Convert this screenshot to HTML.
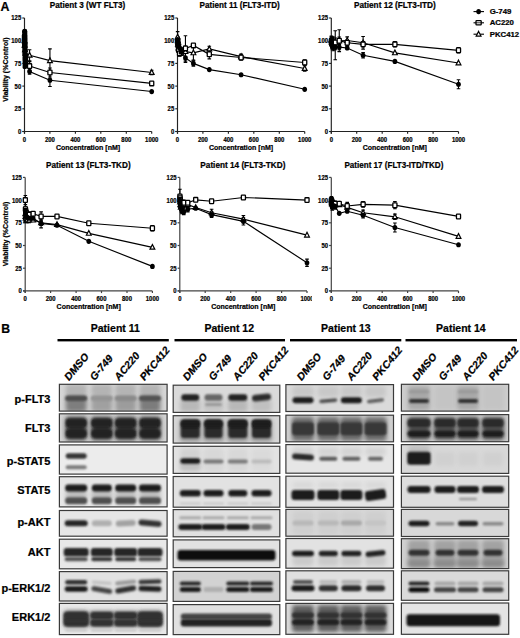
<!DOCTYPE html>
<html><head><meta charset="utf-8"><style>
html,body{margin:0;padding:0;background:#fff;}
svg{display:block;}
</style></head><body>
<svg width="520" height="638" viewBox="0 0 520 638">
<rect width="520" height="638" fill="#fff"/>
<text x="87.5" y="8.1" font-family="Liberation Sans, sans-serif" font-weight="bold" stroke="#000" stroke-width="0.22" font-size="8.6" text-anchor="middle" textLength="75.6" lengthAdjust="spacingAndGlyphs">Patient 3 (WT FLT3)</text>
<path d="M24.5 18.0 V133.7 M22.3 131.5 H151.7" stroke="#222" stroke-width="1.15" fill="none"/>
<path d="M22.3 131.5 H24.5" stroke="#222" stroke-width="1.15"/>
<text x="21.2" y="133.9" font-family="Liberation Sans, sans-serif" font-weight="bold" stroke="#000" stroke-width="0.22" font-size="6.8" text-anchor="end" textLength="3.3" lengthAdjust="spacingAndGlyphs">0</text>
<path d="M22.3 108.8 H24.5" stroke="#222" stroke-width="1.15"/>
<text x="21.2" y="111.2" font-family="Liberation Sans, sans-serif" font-weight="bold" stroke="#000" stroke-width="0.22" font-size="6.8" text-anchor="end" textLength="6.6" lengthAdjust="spacingAndGlyphs">25</text>
<path d="M22.3 86.1 H24.5" stroke="#222" stroke-width="1.15"/>
<text x="21.2" y="88.5" font-family="Liberation Sans, sans-serif" font-weight="bold" stroke="#000" stroke-width="0.22" font-size="6.8" text-anchor="end" textLength="6.6" lengthAdjust="spacingAndGlyphs">50</text>
<path d="M22.3 63.4 H24.5" stroke="#222" stroke-width="1.15"/>
<text x="21.2" y="65.8" font-family="Liberation Sans, sans-serif" font-weight="bold" stroke="#000" stroke-width="0.22" font-size="6.8" text-anchor="end" textLength="6.6" lengthAdjust="spacingAndGlyphs">75</text>
<path d="M22.3 40.7 H24.5" stroke="#222" stroke-width="1.15"/>
<text x="21.2" y="43.2" font-family="Liberation Sans, sans-serif" font-weight="bold" stroke="#000" stroke-width="0.22" font-size="6.8" text-anchor="end" textLength="9.9" lengthAdjust="spacingAndGlyphs">100</text>
<path d="M22.3 18.0 H24.5" stroke="#222" stroke-width="1.15"/>
<text x="21.2" y="20.4" font-family="Liberation Sans, sans-serif" font-weight="bold" stroke="#000" stroke-width="0.22" font-size="6.8" text-anchor="end" textLength="9.9" lengthAdjust="spacingAndGlyphs">125</text>
<path d="M24.5 131.5 V133.7" stroke="#222" stroke-width="1.15"/>
<text x="24.5" y="141.7" font-family="Liberation Sans, sans-serif" font-weight="bold" stroke="#000" stroke-width="0.22" font-size="6.8" text-anchor="middle" textLength="3.3" lengthAdjust="spacingAndGlyphs">0</text>
<path d="M49.9 131.5 V133.7" stroke="#222" stroke-width="1.15"/>
<text x="49.9" y="141.7" font-family="Liberation Sans, sans-serif" font-weight="bold" stroke="#000" stroke-width="0.22" font-size="6.8" text-anchor="middle" textLength="9.9" lengthAdjust="spacingAndGlyphs">200</text>
<path d="M75.4 131.5 V133.7" stroke="#222" stroke-width="1.15"/>
<text x="75.4" y="141.7" font-family="Liberation Sans, sans-serif" font-weight="bold" stroke="#000" stroke-width="0.22" font-size="6.8" text-anchor="middle" textLength="9.9" lengthAdjust="spacingAndGlyphs">400</text>
<path d="M100.8 131.5 V133.7" stroke="#222" stroke-width="1.15"/>
<text x="100.8" y="141.7" font-family="Liberation Sans, sans-serif" font-weight="bold" stroke="#000" stroke-width="0.22" font-size="6.8" text-anchor="middle" textLength="9.9" lengthAdjust="spacingAndGlyphs">600</text>
<path d="M126.3 131.5 V133.7" stroke="#222" stroke-width="1.15"/>
<text x="126.3" y="141.7" font-family="Liberation Sans, sans-serif" font-weight="bold" stroke="#000" stroke-width="0.22" font-size="6.8" text-anchor="middle" textLength="9.9" lengthAdjust="spacingAndGlyphs">800</text>
<path d="M151.7 131.5 V133.7" stroke="#222" stroke-width="1.15"/>
<text x="151.7" y="141.7" font-family="Liberation Sans, sans-serif" font-weight="bold" stroke="#000" stroke-width="0.22" font-size="6.8" text-anchor="middle" textLength="13.2" lengthAdjust="spacingAndGlyphs">1000</text>
<text x="88.0" y="149.7" font-family="Liberation Sans, sans-serif" font-weight="bold" stroke="#000" stroke-width="0.22" font-size="7" text-anchor="middle">Concentration [nM]</text>
<text transform="translate(8.2,69.6) rotate(-90)" font-family="Liberation Sans, sans-serif" font-weight="bold" stroke="#000" stroke-width="0.22" font-size="7" text-anchor="middle">Viability (%Control)</text>
<path d="M24.50 40.70 L24.63 45.24 L25.01 49.78 L25.52 53.41 L29.59 55.23 L49.94 60.68 L151.70 72.48" stroke="#000" stroke-width="1.15" fill="none"/>
<path d="M24.50 37.98 V43.42 M22.70 37.98 H26.30 M22.70 43.42 H26.30" stroke="#000" stroke-width="1.1" fill="none"/>
<path d="M24.63 42.52 V47.96 M22.83 42.52 H26.43 M22.83 47.96 H26.43" stroke="#000" stroke-width="1.1" fill="none"/>
<path d="M25.01 46.15 V53.41 M23.21 46.15 H26.81 M23.21 53.41 H26.81" stroke="#000" stroke-width="1.1" fill="none"/>
<path d="M25.52 49.78 V57.04 M23.72 49.78 H27.32 M23.72 57.04 H27.32" stroke="#000" stroke-width="1.1" fill="none"/>
<path d="M29.59 49.78 V60.68 M27.79 49.78 H31.39 M27.79 60.68 H31.39" stroke="#000" stroke-width="1.1" fill="none"/>
<path d="M49.94 48.87 V72.48 M48.14 48.87 H51.74 M48.14 72.48 H51.74" stroke="#000" stroke-width="1.1" fill="none"/>
<path d="M151.70 70.21 V74.75 M149.90 70.21 H153.50 M149.90 74.75 H153.50" stroke="#000" stroke-width="1.1" fill="none"/>
<path d="M24.50 37.07 L24.56 40.70 L24.75 45.24 L25.52 58.86 L29.59 66.12 L49.94 72.48 L151.70 83.38" stroke="#000" stroke-width="1.15" fill="none"/>
<path d="M24.50 34.34 V39.79 M22.70 34.34 H26.30 M22.70 39.79 H26.30" stroke="#000" stroke-width="1.1" fill="none"/>
<path d="M24.56 37.98 V43.42 M22.76 37.98 H26.36 M22.76 43.42 H26.36" stroke="#000" stroke-width="1.1" fill="none"/>
<path d="M24.75 42.52 V47.96 M22.95 42.52 H26.55 M22.95 47.96 H26.55" stroke="#000" stroke-width="1.1" fill="none"/>
<path d="M25.52 55.23 V62.49 M23.72 55.23 H27.32 M23.72 62.49 H27.32" stroke="#000" stroke-width="1.1" fill="none"/>
<path d="M29.59 61.58 V70.66 M27.79 61.58 H31.39 M27.79 70.66 H31.39" stroke="#000" stroke-width="1.1" fill="none"/>
<path d="M49.94 67.94 V77.02 M48.14 67.94 H51.74 M48.14 77.02 H51.74" stroke="#000" stroke-width="1.1" fill="none"/>
<path d="M24.50 31.62 L24.54 35.25 L24.63 38.88 L24.88 43.42 L25.26 49.78 L25.52 55.23 L29.59 71.57 L49.94 80.20 L151.70 91.55" stroke="#000" stroke-width="1.15" fill="none"/>
<path d="M24.54 32.53 V37.98 M22.74 32.53 H26.34 M22.74 37.98 H26.34" stroke="#000" stroke-width="1.1" fill="none"/>
<path d="M24.63 36.16 V41.61 M22.83 36.16 H26.43 M22.83 41.61 H26.43" stroke="#000" stroke-width="1.1" fill="none"/>
<path d="M24.88 39.79 V47.06 M23.08 39.79 H26.68 M23.08 47.06 H26.68" stroke="#000" stroke-width="1.1" fill="none"/>
<path d="M25.26 46.15 V53.41 M23.46 46.15 H27.06 M23.46 53.41 H27.06" stroke="#000" stroke-width="1.1" fill="none"/>
<path d="M25.52 50.69 V59.77 M23.72 50.69 H27.32 M23.72 59.77 H27.32" stroke="#000" stroke-width="1.1" fill="none"/>
<path d="M29.59 68.85 V74.30 M27.79 68.85 H31.39 M27.79 74.30 H31.39" stroke="#000" stroke-width="1.1" fill="none"/>
<path d="M49.94 73.84 V86.55 M48.14 73.84 H51.74 M48.14 86.55 H51.74" stroke="#000" stroke-width="1.1" fill="none"/>
<path d="M24.50 37.90 L26.90 42.60 L22.10 42.60 Z" fill="#fff" stroke="#000" stroke-width="1.2"/>
<path d="M24.63 42.44 L27.03 47.14 L22.23 47.14 Z" fill="#fff" stroke="#000" stroke-width="1.2"/>
<path d="M25.01 46.98 L27.41 51.68 L22.61 51.68 Z" fill="#fff" stroke="#000" stroke-width="1.2"/>
<path d="M25.52 50.61 L27.92 55.31 L23.12 55.31 Z" fill="#fff" stroke="#000" stroke-width="1.2"/>
<path d="M29.59 52.43 L31.99 57.13 L27.19 57.13 Z" fill="#fff" stroke="#000" stroke-width="1.2"/>
<path d="M49.94 57.88 L52.34 62.58 L47.54 62.58 Z" fill="#fff" stroke="#000" stroke-width="1.2"/>
<path d="M151.70 69.68 L154.10 74.38 L149.30 74.38 Z" fill="#fff" stroke="#000" stroke-width="1.2"/>
<rect x="22.45" y="34.72" width="4.1" height="4.7" rx="0.6" fill="#fff" stroke="#000" stroke-width="1.3"/>
<rect x="22.51" y="38.35" width="4.1" height="4.7" rx="0.6" fill="#fff" stroke="#000" stroke-width="1.3"/>
<rect x="22.70" y="42.89" width="4.1" height="4.7" rx="0.6" fill="#fff" stroke="#000" stroke-width="1.3"/>
<rect x="23.47" y="56.51" width="4.1" height="4.7" rx="0.6" fill="#fff" stroke="#000" stroke-width="1.3"/>
<rect x="27.54" y="63.77" width="4.1" height="4.7" rx="0.6" fill="#fff" stroke="#000" stroke-width="1.3"/>
<rect x="47.89" y="70.13" width="4.1" height="4.7" rx="0.6" fill="#fff" stroke="#000" stroke-width="1.3"/>
<rect x="149.65" y="81.03" width="4.1" height="4.7" rx="0.6" fill="#fff" stroke="#000" stroke-width="1.3"/>
<ellipse cx="24.50" cy="31.62" rx="2.35" ry="2.6" fill="#000"/>
<ellipse cx="24.54" cy="35.25" rx="2.35" ry="2.6" fill="#000"/>
<ellipse cx="24.63" cy="38.88" rx="2.35" ry="2.6" fill="#000"/>
<ellipse cx="24.88" cy="43.42" rx="2.35" ry="2.6" fill="#000"/>
<ellipse cx="25.26" cy="49.78" rx="2.35" ry="2.6" fill="#000"/>
<ellipse cx="25.52" cy="55.23" rx="2.35" ry="2.6" fill="#000"/>
<ellipse cx="29.59" cy="71.57" rx="2.35" ry="2.6" fill="#000"/>
<ellipse cx="49.94" cy="80.20" rx="2.35" ry="2.6" fill="#000"/>
<ellipse cx="151.70" cy="91.55" rx="2.35" ry="2.6" fill="#000"/>
<rect x="22.3" y="28.8" width="5.0" height="28" rx="2.4" fill="#000"/>
<rect x="22.6" y="55" width="4.4" height="14" rx="1.5" fill="#000"/>
<text x="239.7" y="8.1" font-family="Liberation Sans, sans-serif" font-weight="bold" stroke="#000" stroke-width="0.22" font-size="8.6" text-anchor="middle" textLength="80.3" lengthAdjust="spacingAndGlyphs">Patient 11 (FLT3-ITD)</text>
<path d="M177.5 18.0 V133.7 M175.3 131.5 H304.7" stroke="#222" stroke-width="1.15" fill="none"/>
<path d="M175.3 131.5 H177.5" stroke="#222" stroke-width="1.15"/>
<text x="174.2" y="133.9" font-family="Liberation Sans, sans-serif" font-weight="bold" stroke="#000" stroke-width="0.22" font-size="6.8" text-anchor="end" textLength="3.3" lengthAdjust="spacingAndGlyphs">0</text>
<path d="M175.3 108.8 H177.5" stroke="#222" stroke-width="1.15"/>
<text x="174.2" y="111.2" font-family="Liberation Sans, sans-serif" font-weight="bold" stroke="#000" stroke-width="0.22" font-size="6.8" text-anchor="end" textLength="6.6" lengthAdjust="spacingAndGlyphs">25</text>
<path d="M175.3 86.1 H177.5" stroke="#222" stroke-width="1.15"/>
<text x="174.2" y="88.5" font-family="Liberation Sans, sans-serif" font-weight="bold" stroke="#000" stroke-width="0.22" font-size="6.8" text-anchor="end" textLength="6.6" lengthAdjust="spacingAndGlyphs">50</text>
<path d="M175.3 63.4 H177.5" stroke="#222" stroke-width="1.15"/>
<text x="174.2" y="65.8" font-family="Liberation Sans, sans-serif" font-weight="bold" stroke="#000" stroke-width="0.22" font-size="6.8" text-anchor="end" textLength="6.6" lengthAdjust="spacingAndGlyphs">75</text>
<path d="M175.3 40.7 H177.5" stroke="#222" stroke-width="1.15"/>
<text x="174.2" y="43.2" font-family="Liberation Sans, sans-serif" font-weight="bold" stroke="#000" stroke-width="0.22" font-size="6.8" text-anchor="end" textLength="9.9" lengthAdjust="spacingAndGlyphs">100</text>
<path d="M175.3 18.0 H177.5" stroke="#222" stroke-width="1.15"/>
<text x="174.2" y="20.4" font-family="Liberation Sans, sans-serif" font-weight="bold" stroke="#000" stroke-width="0.22" font-size="6.8" text-anchor="end" textLength="9.9" lengthAdjust="spacingAndGlyphs">125</text>
<path d="M177.5 131.5 V133.7" stroke="#222" stroke-width="1.15"/>
<text x="177.5" y="141.7" font-family="Liberation Sans, sans-serif" font-weight="bold" stroke="#000" stroke-width="0.22" font-size="6.8" text-anchor="middle" textLength="3.3" lengthAdjust="spacingAndGlyphs">0</text>
<path d="M202.9 131.5 V133.7" stroke="#222" stroke-width="1.15"/>
<text x="202.9" y="141.7" font-family="Liberation Sans, sans-serif" font-weight="bold" stroke="#000" stroke-width="0.22" font-size="6.8" text-anchor="middle" textLength="9.9" lengthAdjust="spacingAndGlyphs">200</text>
<path d="M228.4 131.5 V133.7" stroke="#222" stroke-width="1.15"/>
<text x="228.4" y="141.7" font-family="Liberation Sans, sans-serif" font-weight="bold" stroke="#000" stroke-width="0.22" font-size="6.8" text-anchor="middle" textLength="9.9" lengthAdjust="spacingAndGlyphs">400</text>
<path d="M253.8 131.5 V133.7" stroke="#222" stroke-width="1.15"/>
<text x="253.8" y="141.7" font-family="Liberation Sans, sans-serif" font-weight="bold" stroke="#000" stroke-width="0.22" font-size="6.8" text-anchor="middle" textLength="9.9" lengthAdjust="spacingAndGlyphs">600</text>
<path d="M279.3 131.5 V133.7" stroke="#222" stroke-width="1.15"/>
<text x="279.3" y="141.7" font-family="Liberation Sans, sans-serif" font-weight="bold" stroke="#000" stroke-width="0.22" font-size="6.8" text-anchor="middle" textLength="9.9" lengthAdjust="spacingAndGlyphs">800</text>
<path d="M304.7 131.5 V133.7" stroke="#222" stroke-width="1.15"/>
<text x="304.7" y="141.7" font-family="Liberation Sans, sans-serif" font-weight="bold" stroke="#000" stroke-width="0.22" font-size="6.8" text-anchor="middle" textLength="13.2" lengthAdjust="spacingAndGlyphs">1000</text>
<text x="241.0" y="149.7" font-family="Liberation Sans, sans-serif" font-weight="bold" stroke="#000" stroke-width="0.22" font-size="7" text-anchor="middle">Concentration [nM]</text>
<path d="M177.63 37.07 L177.75 40.70 L178.01 44.33 L178.52 47.96 L179.54 49.78 L181.44 51.60 L185.45 51.60 L193.40 52.87 L209.30 48.96 L241.10 56.68 L304.70 68.48" stroke="#000" stroke-width="1.15" fill="none"/>
<path d="M177.63 31.62 V42.52 M175.83 31.62 H179.43 M175.83 42.52 H179.43" stroke="#000" stroke-width="1.1" fill="none"/>
<path d="M177.75 37.07 V44.33 M175.95 37.07 H179.55 M175.95 44.33 H179.55" stroke="#000" stroke-width="1.1" fill="none"/>
<path d="M178.01 40.70 V47.96 M176.21 40.70 H179.81 M176.21 47.96 H179.81" stroke="#000" stroke-width="1.1" fill="none"/>
<path d="M178.52 44.33 V51.60 M176.72 44.33 H180.32 M176.72 51.60 H180.32" stroke="#000" stroke-width="1.1" fill="none"/>
<path d="M179.54 46.15 V53.41 M177.74 46.15 H181.34 M177.74 53.41 H181.34" stroke="#000" stroke-width="1.1" fill="none"/>
<path d="M181.44 47.96 V55.23 M179.64 47.96 H183.24 M179.64 55.23 H183.24" stroke="#000" stroke-width="1.1" fill="none"/>
<path d="M185.45 46.15 V57.04 M183.65 46.15 H187.25 M183.65 57.04 H187.25" stroke="#000" stroke-width="1.1" fill="none"/>
<path d="M193.40 45.60 V60.13 M191.60 45.60 H195.20 M191.60 60.13 H195.20" stroke="#000" stroke-width="1.1" fill="none"/>
<path d="M209.30 46.24 V51.69 M207.50 46.24 H211.10 M207.50 51.69 H211.10" stroke="#000" stroke-width="1.1" fill="none"/>
<path d="M241.10 53.96 V59.40 M239.30 53.96 H242.90 M239.30 59.40 H242.90" stroke="#000" stroke-width="1.1" fill="none"/>
<path d="M304.70 65.76 V71.21 M302.90 65.76 H306.50 M302.90 71.21 H306.50" stroke="#000" stroke-width="1.1" fill="none"/>
<path d="M177.63 40.70 L177.75 42.52 L178.01 45.24 L178.52 49.78 L179.54 53.41 L181.44 51.60 L185.45 48.42 L193.40 45.42 L209.30 54.32 L241.10 57.50 L304.70 62.49" stroke="#000" stroke-width="1.15" fill="none"/>
<path d="M177.63 37.98 V43.42 M175.83 37.98 H179.43 M175.83 43.42 H179.43" stroke="#000" stroke-width="1.1" fill="none"/>
<path d="M177.75 39.79 V45.24 M175.95 39.79 H179.55 M175.95 45.24 H179.55" stroke="#000" stroke-width="1.1" fill="none"/>
<path d="M178.01 42.52 V47.96 M176.21 42.52 H179.81 M176.21 47.96 H179.81" stroke="#000" stroke-width="1.1" fill="none"/>
<path d="M178.52 47.06 V52.50 M176.72 47.06 H180.32 M176.72 52.50 H180.32" stroke="#000" stroke-width="1.1" fill="none"/>
<path d="M179.54 50.69 V56.14 M177.74 50.69 H181.34 M177.74 56.14 H181.34" stroke="#000" stroke-width="1.1" fill="none"/>
<path d="M181.44 47.96 V55.23 M179.64 47.96 H183.24 M179.64 55.23 H183.24" stroke="#000" stroke-width="1.1" fill="none"/>
<path d="M185.45 35.71 V61.13 M183.65 35.71 H187.25 M183.65 61.13 H187.25" stroke="#000" stroke-width="1.1" fill="none"/>
<path d="M209.30 49.78 V58.86 M207.50 49.78 H211.10 M207.50 58.86 H211.10" stroke="#000" stroke-width="1.1" fill="none"/>
<path d="M241.10 54.77 V60.22 M239.30 54.77 H242.90 M239.30 60.22 H242.90" stroke="#000" stroke-width="1.1" fill="none"/>
<path d="M304.70 59.77 V65.22 M302.90 59.77 H306.50 M302.90 65.22 H306.50" stroke="#000" stroke-width="1.1" fill="none"/>
<path d="M177.63 39.79 L177.75 41.61 L178.01 44.33 L178.52 46.15 L179.54 47.96 L181.44 51.60 L185.45 57.95 L193.40 63.40 L209.30 69.57 L241.10 74.75 L304.70 89.28" stroke="#000" stroke-width="1.15" fill="none"/>
<path d="M177.63 37.07 V42.52 M175.83 37.07 H179.43 M175.83 42.52 H179.43" stroke="#000" stroke-width="1.1" fill="none"/>
<path d="M177.75 38.88 V44.33 M175.95 38.88 H179.55 M175.95 44.33 H179.55" stroke="#000" stroke-width="1.1" fill="none"/>
<path d="M178.01 40.70 V47.96 M176.21 40.70 H179.81 M176.21 47.96 H179.81" stroke="#000" stroke-width="1.1" fill="none"/>
<path d="M178.52 42.52 V49.78 M176.72 42.52 H180.32 M176.72 49.78 H180.32" stroke="#000" stroke-width="1.1" fill="none"/>
<path d="M179.54 44.33 V51.60 M177.74 44.33 H181.34 M177.74 51.60 H181.34" stroke="#000" stroke-width="1.1" fill="none"/>
<path d="M181.44 47.96 V55.23 M179.64 47.96 H183.24 M179.64 55.23 H183.24" stroke="#000" stroke-width="1.1" fill="none"/>
<path d="M185.45 53.41 V62.49 M183.65 53.41 H187.25 M183.65 62.49 H187.25" stroke="#000" stroke-width="1.1" fill="none"/>
<path d="M193.40 60.68 V66.12 M191.60 60.68 H195.20 M191.60 66.12 H195.20" stroke="#000" stroke-width="1.1" fill="none"/>
<path d="M177.63 34.27 L180.03 38.97 L175.23 38.97 Z" fill="#fff" stroke="#000" stroke-width="1.2"/>
<path d="M177.75 37.90 L180.15 42.60 L175.35 42.60 Z" fill="#fff" stroke="#000" stroke-width="1.2"/>
<path d="M178.01 41.53 L180.41 46.23 L175.61 46.23 Z" fill="#fff" stroke="#000" stroke-width="1.2"/>
<path d="M178.52 45.16 L180.92 49.86 L176.12 49.86 Z" fill="#fff" stroke="#000" stroke-width="1.2"/>
<path d="M179.54 46.98 L181.94 51.68 L177.14 51.68 Z" fill="#fff" stroke="#000" stroke-width="1.2"/>
<path d="M181.44 48.80 L183.84 53.50 L179.04 53.50 Z" fill="#fff" stroke="#000" stroke-width="1.2"/>
<path d="M185.45 48.80 L187.85 53.50 L183.05 53.50 Z" fill="#fff" stroke="#000" stroke-width="1.2"/>
<path d="M193.40 50.07 L195.80 54.77 L191.00 54.77 Z" fill="#fff" stroke="#000" stroke-width="1.2"/>
<path d="M209.30 46.16 L211.70 50.86 L206.90 50.86 Z" fill="#fff" stroke="#000" stroke-width="1.2"/>
<path d="M241.10 53.88 L243.50 58.58 L238.70 58.58 Z" fill="#fff" stroke="#000" stroke-width="1.2"/>
<path d="M304.70 65.68 L307.10 70.38 L302.30 70.38 Z" fill="#fff" stroke="#000" stroke-width="1.2"/>
<rect x="175.58" y="38.35" width="4.1" height="4.7" rx="0.6" fill="#fff" stroke="#000" stroke-width="1.3"/>
<rect x="175.70" y="40.17" width="4.1" height="4.7" rx="0.6" fill="#fff" stroke="#000" stroke-width="1.3"/>
<rect x="175.96" y="42.89" width="4.1" height="4.7" rx="0.6" fill="#fff" stroke="#000" stroke-width="1.3"/>
<rect x="176.47" y="47.43" width="4.1" height="4.7" rx="0.6" fill="#fff" stroke="#000" stroke-width="1.3"/>
<rect x="177.49" y="51.06" width="4.1" height="4.7" rx="0.6" fill="#fff" stroke="#000" stroke-width="1.3"/>
<rect x="179.39" y="49.25" width="4.1" height="4.7" rx="0.6" fill="#fff" stroke="#000" stroke-width="1.3"/>
<rect x="183.40" y="46.07" width="4.1" height="4.7" rx="0.6" fill="#fff" stroke="#000" stroke-width="1.3"/>
<rect x="191.35" y="43.07" width="4.1" height="4.7" rx="0.6" fill="#fff" stroke="#000" stroke-width="1.3"/>
<rect x="207.25" y="51.97" width="4.1" height="4.7" rx="0.6" fill="#fff" stroke="#000" stroke-width="1.3"/>
<rect x="239.05" y="55.15" width="4.1" height="4.7" rx="0.6" fill="#fff" stroke="#000" stroke-width="1.3"/>
<rect x="302.65" y="60.14" width="4.1" height="4.7" rx="0.6" fill="#fff" stroke="#000" stroke-width="1.3"/>
<ellipse cx="177.63" cy="39.79" rx="2.35" ry="2.6" fill="#000"/>
<ellipse cx="177.75" cy="41.61" rx="2.35" ry="2.6" fill="#000"/>
<ellipse cx="178.01" cy="44.33" rx="2.35" ry="2.6" fill="#000"/>
<ellipse cx="178.52" cy="46.15" rx="2.35" ry="2.6" fill="#000"/>
<ellipse cx="179.54" cy="47.96" rx="2.35" ry="2.6" fill="#000"/>
<ellipse cx="181.44" cy="51.60" rx="2.35" ry="2.6" fill="#000"/>
<ellipse cx="185.45" cy="57.95" rx="2.35" ry="2.6" fill="#000"/>
<ellipse cx="193.40" cy="63.40" rx="2.35" ry="2.6" fill="#000"/>
<ellipse cx="209.30" cy="69.57" rx="2.35" ry="2.6" fill="#000"/>
<ellipse cx="241.10" cy="74.75" rx="2.35" ry="2.6" fill="#000"/>
<ellipse cx="304.70" cy="89.28" rx="2.35" ry="2.6" fill="#000"/>
<text x="394.8" y="8.1" font-family="Liberation Sans, sans-serif" font-weight="bold" stroke="#000" stroke-width="0.22" font-size="8.6" text-anchor="middle" textLength="81.7" lengthAdjust="spacingAndGlyphs">Patient 12 (FLT3-ITD)</text>
<path d="M331.3 18.0 V133.7 M329.1 131.5 H458.5" stroke="#222" stroke-width="1.15" fill="none"/>
<path d="M329.1 131.5 H331.3" stroke="#222" stroke-width="1.15"/>
<text x="328.0" y="133.9" font-family="Liberation Sans, sans-serif" font-weight="bold" stroke="#000" stroke-width="0.22" font-size="6.8" text-anchor="end" textLength="3.3" lengthAdjust="spacingAndGlyphs">0</text>
<path d="M329.1 108.8 H331.3" stroke="#222" stroke-width="1.15"/>
<text x="328.0" y="111.2" font-family="Liberation Sans, sans-serif" font-weight="bold" stroke="#000" stroke-width="0.22" font-size="6.8" text-anchor="end" textLength="6.6" lengthAdjust="spacingAndGlyphs">25</text>
<path d="M329.1 86.1 H331.3" stroke="#222" stroke-width="1.15"/>
<text x="328.0" y="88.5" font-family="Liberation Sans, sans-serif" font-weight="bold" stroke="#000" stroke-width="0.22" font-size="6.8" text-anchor="end" textLength="6.6" lengthAdjust="spacingAndGlyphs">50</text>
<path d="M329.1 63.4 H331.3" stroke="#222" stroke-width="1.15"/>
<text x="328.0" y="65.8" font-family="Liberation Sans, sans-serif" font-weight="bold" stroke="#000" stroke-width="0.22" font-size="6.8" text-anchor="end" textLength="6.6" lengthAdjust="spacingAndGlyphs">75</text>
<path d="M329.1 40.7 H331.3" stroke="#222" stroke-width="1.15"/>
<text x="328.0" y="43.2" font-family="Liberation Sans, sans-serif" font-weight="bold" stroke="#000" stroke-width="0.22" font-size="6.8" text-anchor="end" textLength="9.9" lengthAdjust="spacingAndGlyphs">100</text>
<path d="M329.1 18.0 H331.3" stroke="#222" stroke-width="1.15"/>
<text x="328.0" y="20.4" font-family="Liberation Sans, sans-serif" font-weight="bold" stroke="#000" stroke-width="0.22" font-size="6.8" text-anchor="end" textLength="9.9" lengthAdjust="spacingAndGlyphs">125</text>
<path d="M331.3 131.5 V133.7" stroke="#222" stroke-width="1.15"/>
<text x="331.3" y="141.7" font-family="Liberation Sans, sans-serif" font-weight="bold" stroke="#000" stroke-width="0.22" font-size="6.8" text-anchor="middle" textLength="3.3" lengthAdjust="spacingAndGlyphs">0</text>
<path d="M356.7 131.5 V133.7" stroke="#222" stroke-width="1.15"/>
<text x="356.7" y="141.7" font-family="Liberation Sans, sans-serif" font-weight="bold" stroke="#000" stroke-width="0.22" font-size="6.8" text-anchor="middle" textLength="9.9" lengthAdjust="spacingAndGlyphs">200</text>
<path d="M382.2 131.5 V133.7" stroke="#222" stroke-width="1.15"/>
<text x="382.2" y="141.7" font-family="Liberation Sans, sans-serif" font-weight="bold" stroke="#000" stroke-width="0.22" font-size="6.8" text-anchor="middle" textLength="9.9" lengthAdjust="spacingAndGlyphs">400</text>
<path d="M407.6 131.5 V133.7" stroke="#222" stroke-width="1.15"/>
<text x="407.6" y="141.7" font-family="Liberation Sans, sans-serif" font-weight="bold" stroke="#000" stroke-width="0.22" font-size="6.8" text-anchor="middle" textLength="9.9" lengthAdjust="spacingAndGlyphs">600</text>
<path d="M433.1 131.5 V133.7" stroke="#222" stroke-width="1.15"/>
<text x="433.1" y="141.7" font-family="Liberation Sans, sans-serif" font-weight="bold" stroke="#000" stroke-width="0.22" font-size="6.8" text-anchor="middle" textLength="9.9" lengthAdjust="spacingAndGlyphs">800</text>
<path d="M458.5 131.5 V133.7" stroke="#222" stroke-width="1.15"/>
<text x="458.5" y="141.7" font-family="Liberation Sans, sans-serif" font-weight="bold" stroke="#000" stroke-width="0.22" font-size="6.8" text-anchor="middle" textLength="13.2" lengthAdjust="spacingAndGlyphs">1000</text>
<text x="394.8" y="149.7" font-family="Liberation Sans, sans-serif" font-weight="bold" stroke="#000" stroke-width="0.22" font-size="7" text-anchor="middle">Concentration [nM]</text>
<path d="M331.43 39.79 L331.55 40.70 L331.81 42.52 L332.32 42.52 L333.34 40.70 L335.24 45.24 L339.25 40.70 L347.20 40.52 L363.10 42.79 L394.90 52.87 L458.50 62.95" stroke="#000" stroke-width="1.15" fill="none"/>
<path d="M331.43 36.16 V43.42 M329.63 36.16 H333.23 M329.63 43.42 H333.23" stroke="#000" stroke-width="1.1" fill="none"/>
<path d="M331.55 37.07 V44.33 M329.75 37.07 H333.35 M329.75 44.33 H333.35" stroke="#000" stroke-width="1.1" fill="none"/>
<path d="M331.81 38.88 V46.15 M330.01 38.88 H333.61 M330.01 46.15 H333.61" stroke="#000" stroke-width="1.1" fill="none"/>
<path d="M332.32 37.07 V47.96 M330.52 37.07 H334.12 M330.52 47.96 H334.12" stroke="#000" stroke-width="1.1" fill="none"/>
<path d="M333.34 37.07 V44.33 M331.54 37.07 H335.14 M331.54 44.33 H335.14" stroke="#000" stroke-width="1.1" fill="none"/>
<path d="M335.24 30.71 V59.77 M333.44 30.71 H337.04 M333.44 59.77 H337.04" stroke="#000" stroke-width="1.1" fill="none"/>
<path d="M339.25 29.80 V51.60 M337.45 29.80 H341.05 M337.45 51.60 H341.05" stroke="#000" stroke-width="1.1" fill="none"/>
<path d="M347.20 36.89 V44.15 M345.40 36.89 H349.00 M345.40 44.15 H349.00" stroke="#000" stroke-width="1.1" fill="none"/>
<path d="M363.10 36.43 V49.14 M361.30 36.43 H364.90 M361.30 49.14 H364.90" stroke="#000" stroke-width="1.1" fill="none"/>
<path d="M331.43 40.70 L331.55 42.52 L331.81 43.42 L332.32 44.33 L333.34 44.33 L335.24 42.52 L339.25 40.70 L347.20 42.79 L363.10 44.33 L394.90 44.33 L458.50 50.32" stroke="#000" stroke-width="1.15" fill="none"/>
<path d="M331.43 37.07 V44.33 M329.63 37.07 H333.23 M329.63 44.33 H333.23" stroke="#000" stroke-width="1.1" fill="none"/>
<path d="M331.55 38.88 V46.15 M329.75 38.88 H333.35 M329.75 46.15 H333.35" stroke="#000" stroke-width="1.1" fill="none"/>
<path d="M331.81 39.79 V47.06 M330.01 39.79 H333.61 M330.01 47.06 H333.61" stroke="#000" stroke-width="1.1" fill="none"/>
<path d="M332.32 40.70 V47.96 M330.52 40.70 H334.12 M330.52 47.96 H334.12" stroke="#000" stroke-width="1.1" fill="none"/>
<path d="M333.34 40.70 V47.96 M331.54 40.70 H335.14 M331.54 47.96 H335.14" stroke="#000" stroke-width="1.1" fill="none"/>
<path d="M335.24 37.98 V47.06 M333.44 37.98 H337.04 M333.44 47.06 H337.04" stroke="#000" stroke-width="1.1" fill="none"/>
<path d="M339.25 37.07 V44.33 M337.45 37.07 H341.05 M337.45 44.33 H341.05" stroke="#000" stroke-width="1.1" fill="none"/>
<path d="M347.20 40.06 V45.51 M345.40 40.06 H349.00 M345.40 45.51 H349.00" stroke="#000" stroke-width="1.1" fill="none"/>
<path d="M363.10 41.61 V47.06 M361.30 41.61 H364.90 M361.30 47.06 H364.90" stroke="#000" stroke-width="1.1" fill="none"/>
<path d="M394.90 41.61 V47.06 M393.10 41.61 H396.70 M393.10 47.06 H396.70" stroke="#000" stroke-width="1.1" fill="none"/>
<path d="M458.50 47.60 V53.05 M456.70 47.60 H460.30 M456.70 53.05 H460.30" stroke="#000" stroke-width="1.1" fill="none"/>
<path d="M331.43 40.70 L331.55 42.52 L331.81 44.33 L332.32 46.15 L333.34 47.06 L335.24 47.06 L339.25 47.06 L347.20 47.96 L363.10 55.23 L394.90 61.40 L458.50 84.28" stroke="#000" stroke-width="1.15" fill="none"/>
<path d="M331.43 37.98 V43.42 M329.63 37.98 H333.23 M329.63 43.42 H333.23" stroke="#000" stroke-width="1.1" fill="none"/>
<path d="M331.55 39.79 V45.24 M329.75 39.79 H333.35 M329.75 45.24 H333.35" stroke="#000" stroke-width="1.1" fill="none"/>
<path d="M331.81 40.70 V47.96 M330.01 40.70 H333.61 M330.01 47.96 H333.61" stroke="#000" stroke-width="1.1" fill="none"/>
<path d="M332.32 42.52 V49.78 M330.52 42.52 H334.12 M330.52 49.78 H334.12" stroke="#000" stroke-width="1.1" fill="none"/>
<path d="M333.34 43.42 V50.69 M331.54 43.42 H335.14 M331.54 50.69 H335.14" stroke="#000" stroke-width="1.1" fill="none"/>
<path d="M335.24 44.33 V49.78 M333.44 44.33 H337.04 M333.44 49.78 H337.04" stroke="#000" stroke-width="1.1" fill="none"/>
<path d="M339.25 44.33 V49.78 M337.45 44.33 H341.05 M337.45 49.78 H341.05" stroke="#000" stroke-width="1.1" fill="none"/>
<path d="M363.10 52.50 V57.95 M361.30 52.50 H364.90 M361.30 57.95 H364.90" stroke="#000" stroke-width="1.1" fill="none"/>
<path d="M458.50 79.74 V88.82 M456.70 79.74 H460.30 M456.70 88.82 H460.30" stroke="#000" stroke-width="1.1" fill="none"/>
<path d="M331.43 36.99 L333.83 41.69 L329.03 41.69 Z" fill="#fff" stroke="#000" stroke-width="1.2"/>
<path d="M331.55 37.90 L333.95 42.60 L329.15 42.60 Z" fill="#fff" stroke="#000" stroke-width="1.2"/>
<path d="M331.81 39.72 L334.21 44.42 L329.41 44.42 Z" fill="#fff" stroke="#000" stroke-width="1.2"/>
<path d="M332.32 39.72 L334.72 44.42 L329.92 44.42 Z" fill="#fff" stroke="#000" stroke-width="1.2"/>
<path d="M333.34 37.90 L335.74 42.60 L330.94 42.60 Z" fill="#fff" stroke="#000" stroke-width="1.2"/>
<path d="M335.24 42.44 L337.64 47.14 L332.84 47.14 Z" fill="#fff" stroke="#000" stroke-width="1.2"/>
<path d="M339.25 37.90 L341.65 42.60 L336.85 42.60 Z" fill="#fff" stroke="#000" stroke-width="1.2"/>
<path d="M347.20 37.72 L349.60 42.42 L344.80 42.42 Z" fill="#fff" stroke="#000" stroke-width="1.2"/>
<path d="M363.10 39.99 L365.50 44.69 L360.70 44.69 Z" fill="#fff" stroke="#000" stroke-width="1.2"/>
<path d="M394.90 50.07 L397.30 54.77 L392.50 54.77 Z" fill="#fff" stroke="#000" stroke-width="1.2"/>
<path d="M458.50 60.15 L460.90 64.85 L456.10 64.85 Z" fill="#fff" stroke="#000" stroke-width="1.2"/>
<rect x="329.38" y="38.35" width="4.1" height="4.7" rx="0.6" fill="#fff" stroke="#000" stroke-width="1.3"/>
<rect x="329.50" y="40.17" width="4.1" height="4.7" rx="0.6" fill="#fff" stroke="#000" stroke-width="1.3"/>
<rect x="329.76" y="41.07" width="4.1" height="4.7" rx="0.6" fill="#fff" stroke="#000" stroke-width="1.3"/>
<rect x="330.27" y="41.98" width="4.1" height="4.7" rx="0.6" fill="#fff" stroke="#000" stroke-width="1.3"/>
<rect x="331.29" y="41.98" width="4.1" height="4.7" rx="0.6" fill="#fff" stroke="#000" stroke-width="1.3"/>
<rect x="333.19" y="40.17" width="4.1" height="4.7" rx="0.6" fill="#fff" stroke="#000" stroke-width="1.3"/>
<rect x="337.20" y="38.35" width="4.1" height="4.7" rx="0.6" fill="#fff" stroke="#000" stroke-width="1.3"/>
<rect x="345.15" y="40.44" width="4.1" height="4.7" rx="0.6" fill="#fff" stroke="#000" stroke-width="1.3"/>
<rect x="361.05" y="41.98" width="4.1" height="4.7" rx="0.6" fill="#fff" stroke="#000" stroke-width="1.3"/>
<rect x="392.85" y="41.98" width="4.1" height="4.7" rx="0.6" fill="#fff" stroke="#000" stroke-width="1.3"/>
<rect x="456.45" y="47.97" width="4.1" height="4.7" rx="0.6" fill="#fff" stroke="#000" stroke-width="1.3"/>
<ellipse cx="331.43" cy="40.70" rx="2.35" ry="2.6" fill="#000"/>
<ellipse cx="331.55" cy="42.52" rx="2.35" ry="2.6" fill="#000"/>
<ellipse cx="331.81" cy="44.33" rx="2.35" ry="2.6" fill="#000"/>
<ellipse cx="332.32" cy="46.15" rx="2.35" ry="2.6" fill="#000"/>
<ellipse cx="333.34" cy="47.06" rx="2.35" ry="2.6" fill="#000"/>
<ellipse cx="335.24" cy="47.06" rx="2.35" ry="2.6" fill="#000"/>
<ellipse cx="339.25" cy="47.06" rx="2.35" ry="2.6" fill="#000"/>
<ellipse cx="347.20" cy="47.96" rx="2.35" ry="2.6" fill="#000"/>
<ellipse cx="363.10" cy="55.23" rx="2.35" ry="2.6" fill="#000"/>
<ellipse cx="394.90" cy="61.40" rx="2.35" ry="2.6" fill="#000"/>
<ellipse cx="458.50" cy="84.28" rx="2.35" ry="2.6" fill="#000"/>
<text x="88.3" y="167.5" font-family="Liberation Sans, sans-serif" font-weight="bold" stroke="#000" stroke-width="0.22" font-size="8.6" text-anchor="middle" textLength="84.7" lengthAdjust="spacingAndGlyphs">Patient 13 (FLT3-TKD)</text>
<path d="M25.2 177.4 V293.1 M23.0 290.9 H152.4" stroke="#444" stroke-width="1.2" fill="none"/>
<path d="M23.0 290.9 H25.2" stroke="#444" stroke-width="1.2"/>
<text x="21.9" y="293.3" font-family="Liberation Sans, sans-serif" font-weight="bold" stroke="#000" stroke-width="0.22" font-size="6.8" text-anchor="end" textLength="3.3" lengthAdjust="spacingAndGlyphs">0</text>
<path d="M23.0 268.2 H25.2" stroke="#444" stroke-width="1.2"/>
<text x="21.9" y="270.6" font-family="Liberation Sans, sans-serif" font-weight="bold" stroke="#000" stroke-width="0.22" font-size="6.8" text-anchor="end" textLength="6.6" lengthAdjust="spacingAndGlyphs">25</text>
<path d="M23.0 245.5 H25.2" stroke="#444" stroke-width="1.2"/>
<text x="21.9" y="247.9" font-family="Liberation Sans, sans-serif" font-weight="bold" stroke="#000" stroke-width="0.22" font-size="6.8" text-anchor="end" textLength="6.6" lengthAdjust="spacingAndGlyphs">50</text>
<path d="M23.0 222.8 H25.2" stroke="#444" stroke-width="1.2"/>
<text x="21.9" y="225.2" font-family="Liberation Sans, sans-serif" font-weight="bold" stroke="#000" stroke-width="0.22" font-size="6.8" text-anchor="end" textLength="6.6" lengthAdjust="spacingAndGlyphs">75</text>
<path d="M23.0 200.1 H25.2" stroke="#444" stroke-width="1.2"/>
<text x="21.9" y="202.5" font-family="Liberation Sans, sans-serif" font-weight="bold" stroke="#000" stroke-width="0.22" font-size="6.8" text-anchor="end" textLength="9.9" lengthAdjust="spacingAndGlyphs">100</text>
<path d="M23.0 177.4 H25.2" stroke="#444" stroke-width="1.2"/>
<text x="21.9" y="179.8" font-family="Liberation Sans, sans-serif" font-weight="bold" stroke="#000" stroke-width="0.22" font-size="6.8" text-anchor="end" textLength="9.9" lengthAdjust="spacingAndGlyphs">125</text>
<path d="M25.2 290.9 V293.1" stroke="#444" stroke-width="1.2"/>
<text x="25.2" y="301.1" font-family="Liberation Sans, sans-serif" font-weight="bold" stroke="#000" stroke-width="0.22" font-size="6.8" text-anchor="middle" textLength="3.3" lengthAdjust="spacingAndGlyphs">0</text>
<path d="M50.6 290.9 V293.1" stroke="#444" stroke-width="1.2"/>
<text x="50.6" y="301.1" font-family="Liberation Sans, sans-serif" font-weight="bold" stroke="#000" stroke-width="0.22" font-size="6.8" text-anchor="middle" textLength="9.9" lengthAdjust="spacingAndGlyphs">200</text>
<path d="M76.1 290.9 V293.1" stroke="#444" stroke-width="1.2"/>
<text x="76.1" y="301.1" font-family="Liberation Sans, sans-serif" font-weight="bold" stroke="#000" stroke-width="0.22" font-size="6.8" text-anchor="middle" textLength="9.9" lengthAdjust="spacingAndGlyphs">400</text>
<path d="M101.5 290.9 V293.1" stroke="#444" stroke-width="1.2"/>
<text x="101.5" y="301.1" font-family="Liberation Sans, sans-serif" font-weight="bold" stroke="#000" stroke-width="0.22" font-size="6.8" text-anchor="middle" textLength="9.9" lengthAdjust="spacingAndGlyphs">600</text>
<path d="M127.0 290.9 V293.1" stroke="#444" stroke-width="1.2"/>
<text x="127.0" y="301.1" font-family="Liberation Sans, sans-serif" font-weight="bold" stroke="#000" stroke-width="0.22" font-size="6.8" text-anchor="middle" textLength="9.9" lengthAdjust="spacingAndGlyphs">800</text>
<path d="M152.4 290.9 V293.1" stroke="#444" stroke-width="1.2"/>
<text x="152.4" y="301.1" font-family="Liberation Sans, sans-serif" font-weight="bold" stroke="#000" stroke-width="0.22" font-size="6.8" text-anchor="middle" textLength="13.2" lengthAdjust="spacingAndGlyphs">1000</text>
<text x="88.7" y="309.1" font-family="Liberation Sans, sans-serif" font-weight="bold" stroke="#000" stroke-width="0.22" font-size="7" text-anchor="middle">Concentration [nM]</text>
<text transform="translate(8.2,234.0) rotate(-90)" font-family="Liberation Sans, sans-serif" font-weight="bold" stroke="#000" stroke-width="0.22" font-size="7" text-anchor="middle">Viability (%Control)</text>
<path d="M25.33 213.72 L25.45 216.44 L25.71 218.26 L26.22 220.08 L27.24 220.08 L29.14 220.08 L33.15 220.08 L41.10 222.80 L57.00 224.62 L88.80 233.33 L152.40 247.32" stroke="#000" stroke-width="1.15" fill="none"/>
<path d="M25.33 211.00 V216.44 M23.53 211.00 H27.13 M23.53 216.44 H27.13" stroke="#000" stroke-width="1.1" fill="none"/>
<path d="M25.45 213.72 V219.17 M23.65 213.72 H27.25 M23.65 219.17 H27.25" stroke="#000" stroke-width="1.1" fill="none"/>
<path d="M25.71 215.54 V220.98 M23.91 215.54 H27.51 M23.91 220.98 H27.51" stroke="#000" stroke-width="1.1" fill="none"/>
<path d="M26.22 217.35 V222.80 M24.42 217.35 H28.02 M24.42 222.80 H28.02" stroke="#000" stroke-width="1.1" fill="none"/>
<path d="M27.24 217.35 V222.80 M25.44 217.35 H29.04 M25.44 222.80 H29.04" stroke="#000" stroke-width="1.1" fill="none"/>
<path d="M29.14 217.35 V222.80 M27.34 217.35 H30.94 M27.34 222.80 H30.94" stroke="#000" stroke-width="1.1" fill="none"/>
<path d="M41.10 220.08 V225.52 M39.30 220.08 H42.90 M39.30 225.52 H42.90" stroke="#000" stroke-width="1.1" fill="none"/>
<path d="M25.33 200.10 L25.45 209.18 L25.71 211.00 L26.22 212.81 L27.24 214.63 L29.14 214.63 L33.15 213.72 L41.10 216.44 L57.00 216.44 L88.80 223.25 L152.40 228.25" stroke="#000" stroke-width="1.15" fill="none"/>
<path d="M25.33 195.56 V204.64 M23.53 195.56 H27.13 M23.53 204.64 H27.13" stroke="#000" stroke-width="1.1" fill="none"/>
<path d="M25.45 206.46 V211.90 M23.65 206.46 H27.25 M23.65 211.90 H27.25" stroke="#000" stroke-width="1.1" fill="none"/>
<path d="M25.71 208.27 V213.72 M23.91 208.27 H27.51 M23.91 213.72 H27.51" stroke="#000" stroke-width="1.1" fill="none"/>
<path d="M26.22 210.09 V215.54 M24.42 210.09 H28.02 M24.42 215.54 H28.02" stroke="#000" stroke-width="1.1" fill="none"/>
<path d="M27.24 211.90 V217.35 M25.44 211.90 H29.04 M25.44 217.35 H29.04" stroke="#000" stroke-width="1.1" fill="none"/>
<path d="M29.14 211.90 V217.35 M27.34 211.90 H30.94 M27.34 217.35 H30.94" stroke="#000" stroke-width="1.1" fill="none"/>
<path d="M41.10 211.90 V220.98 M39.30 211.90 H42.90 M39.30 220.98 H42.90" stroke="#000" stroke-width="1.1" fill="none"/>
<path d="M152.40 225.52 V230.97 M150.60 225.52 H154.20 M150.60 230.97 H154.20" stroke="#000" stroke-width="1.1" fill="none"/>
<path d="M25.33 211.00 L25.45 212.81 L25.71 214.63 L26.22 216.44 L27.24 217.35 L29.14 218.26 L33.15 218.26 L41.10 223.34 L57.00 225.25 L88.80 241.32 L152.40 266.38" stroke="#000" stroke-width="1.15" fill="none"/>
<path d="M25.33 208.27 V213.72 M23.53 208.27 H27.13 M23.53 213.72 H27.13" stroke="#000" stroke-width="1.1" fill="none"/>
<path d="M25.45 210.09 V215.54 M23.65 210.09 H27.25 M23.65 215.54 H27.25" stroke="#000" stroke-width="1.1" fill="none"/>
<path d="M25.71 211.90 V217.35 M23.91 211.90 H27.51 M23.91 217.35 H27.51" stroke="#000" stroke-width="1.1" fill="none"/>
<path d="M26.22 213.72 V219.17 M24.42 213.72 H28.02 M24.42 219.17 H28.02" stroke="#000" stroke-width="1.1" fill="none"/>
<path d="M27.24 214.63 V220.08 M25.44 214.63 H29.04 M25.44 220.08 H29.04" stroke="#000" stroke-width="1.1" fill="none"/>
<path d="M29.14 215.54 V220.98 M27.34 215.54 H30.94 M27.34 220.98 H30.94" stroke="#000" stroke-width="1.1" fill="none"/>
<path d="M41.10 218.80 V227.88 M39.30 218.80 H42.90 M39.30 227.88 H42.90" stroke="#000" stroke-width="1.1" fill="none"/>
<path d="M25.33 210.92 L27.73 215.62 L22.93 215.62 Z" fill="#fff" stroke="#000" stroke-width="1.2"/>
<path d="M25.45 213.64 L27.85 218.34 L23.05 218.34 Z" fill="#fff" stroke="#000" stroke-width="1.2"/>
<path d="M25.71 215.46 L28.11 220.16 L23.31 220.16 Z" fill="#fff" stroke="#000" stroke-width="1.2"/>
<path d="M26.22 217.28 L28.62 221.98 L23.82 221.98 Z" fill="#fff" stroke="#000" stroke-width="1.2"/>
<path d="M27.24 217.28 L29.64 221.98 L24.84 221.98 Z" fill="#fff" stroke="#000" stroke-width="1.2"/>
<path d="M29.14 217.28 L31.54 221.98 L26.74 221.98 Z" fill="#fff" stroke="#000" stroke-width="1.2"/>
<path d="M33.15 217.28 L35.55 221.98 L30.75 221.98 Z" fill="#fff" stroke="#000" stroke-width="1.2"/>
<path d="M41.10 220.00 L43.50 224.70 L38.70 224.70 Z" fill="#fff" stroke="#000" stroke-width="1.2"/>
<path d="M57.00 221.82 L59.40 226.52 L54.60 226.52 Z" fill="#fff" stroke="#000" stroke-width="1.2"/>
<path d="M88.80 230.53 L91.20 235.23 L86.40 235.23 Z" fill="#fff" stroke="#000" stroke-width="1.2"/>
<path d="M152.40 244.52 L154.80 249.22 L150.00 249.22 Z" fill="#fff" stroke="#000" stroke-width="1.2"/>
<rect x="23.28" y="197.75" width="4.1" height="4.7" rx="0.6" fill="#fff" stroke="#000" stroke-width="1.3"/>
<rect x="23.40" y="206.83" width="4.1" height="4.7" rx="0.6" fill="#fff" stroke="#000" stroke-width="1.3"/>
<rect x="23.66" y="208.65" width="4.1" height="4.7" rx="0.6" fill="#fff" stroke="#000" stroke-width="1.3"/>
<rect x="24.17" y="210.46" width="4.1" height="4.7" rx="0.6" fill="#fff" stroke="#000" stroke-width="1.3"/>
<rect x="25.19" y="212.28" width="4.1" height="4.7" rx="0.6" fill="#fff" stroke="#000" stroke-width="1.3"/>
<rect x="27.09" y="212.28" width="4.1" height="4.7" rx="0.6" fill="#fff" stroke="#000" stroke-width="1.3"/>
<rect x="31.10" y="211.37" width="4.1" height="4.7" rx="0.6" fill="#fff" stroke="#000" stroke-width="1.3"/>
<rect x="39.05" y="214.09" width="4.1" height="4.7" rx="0.6" fill="#fff" stroke="#000" stroke-width="1.3"/>
<rect x="54.95" y="214.09" width="4.1" height="4.7" rx="0.6" fill="#fff" stroke="#000" stroke-width="1.3"/>
<rect x="86.75" y="220.90" width="4.1" height="4.7" rx="0.6" fill="#fff" stroke="#000" stroke-width="1.3"/>
<rect x="150.35" y="225.90" width="4.1" height="4.7" rx="0.6" fill="#fff" stroke="#000" stroke-width="1.3"/>
<ellipse cx="25.33" cy="211.00" rx="2.35" ry="2.6" fill="#000"/>
<ellipse cx="25.45" cy="212.81" rx="2.35" ry="2.6" fill="#000"/>
<ellipse cx="25.71" cy="214.63" rx="2.35" ry="2.6" fill="#000"/>
<ellipse cx="26.22" cy="216.44" rx="2.35" ry="2.6" fill="#000"/>
<ellipse cx="27.24" cy="217.35" rx="2.35" ry="2.6" fill="#000"/>
<ellipse cx="29.14" cy="218.26" rx="2.35" ry="2.6" fill="#000"/>
<ellipse cx="33.15" cy="218.26" rx="2.35" ry="2.6" fill="#000"/>
<ellipse cx="41.10" cy="223.34" rx="2.35" ry="2.6" fill="#000"/>
<ellipse cx="57.00" cy="225.25" rx="2.35" ry="2.6" fill="#000"/>
<ellipse cx="88.80" cy="241.32" rx="2.35" ry="2.6" fill="#000"/>
<ellipse cx="152.40" cy="266.38" rx="2.35" ry="2.6" fill="#000"/>
<text x="242.9" y="167.5" font-family="Liberation Sans, sans-serif" font-weight="bold" stroke="#000" stroke-width="0.22" font-size="8.6" text-anchor="middle" textLength="85.1" lengthAdjust="spacingAndGlyphs">Patient 14 (FLT3-TKD)</text>
<path d="M179.8 177.4 V293.1 M177.6 290.9 H307.0" stroke="#444" stroke-width="1.2" fill="none"/>
<path d="M177.6 290.9 H179.8" stroke="#444" stroke-width="1.2"/>
<text x="176.5" y="293.3" font-family="Liberation Sans, sans-serif" font-weight="bold" stroke="#000" stroke-width="0.22" font-size="6.8" text-anchor="end" textLength="3.3" lengthAdjust="spacingAndGlyphs">0</text>
<path d="M177.6 268.2 H179.8" stroke="#444" stroke-width="1.2"/>
<text x="176.5" y="270.6" font-family="Liberation Sans, sans-serif" font-weight="bold" stroke="#000" stroke-width="0.22" font-size="6.8" text-anchor="end" textLength="6.6" lengthAdjust="spacingAndGlyphs">25</text>
<path d="M177.6 245.5 H179.8" stroke="#444" stroke-width="1.2"/>
<text x="176.5" y="247.9" font-family="Liberation Sans, sans-serif" font-weight="bold" stroke="#000" stroke-width="0.22" font-size="6.8" text-anchor="end" textLength="6.6" lengthAdjust="spacingAndGlyphs">50</text>
<path d="M177.6 222.8 H179.8" stroke="#444" stroke-width="1.2"/>
<text x="176.5" y="225.2" font-family="Liberation Sans, sans-serif" font-weight="bold" stroke="#000" stroke-width="0.22" font-size="6.8" text-anchor="end" textLength="6.6" lengthAdjust="spacingAndGlyphs">75</text>
<path d="M177.6 200.1 H179.8" stroke="#444" stroke-width="1.2"/>
<text x="176.5" y="202.5" font-family="Liberation Sans, sans-serif" font-weight="bold" stroke="#000" stroke-width="0.22" font-size="6.8" text-anchor="end" textLength="9.9" lengthAdjust="spacingAndGlyphs">100</text>
<path d="M177.6 177.4 H179.8" stroke="#444" stroke-width="1.2"/>
<text x="176.5" y="179.8" font-family="Liberation Sans, sans-serif" font-weight="bold" stroke="#000" stroke-width="0.22" font-size="6.8" text-anchor="end" textLength="9.9" lengthAdjust="spacingAndGlyphs">125</text>
<path d="M179.8 290.9 V293.1" stroke="#444" stroke-width="1.2"/>
<text x="179.8" y="301.1" font-family="Liberation Sans, sans-serif" font-weight="bold" stroke="#000" stroke-width="0.22" font-size="6.8" text-anchor="middle" textLength="3.3" lengthAdjust="spacingAndGlyphs">0</text>
<path d="M205.2 290.9 V293.1" stroke="#444" stroke-width="1.2"/>
<text x="205.2" y="301.1" font-family="Liberation Sans, sans-serif" font-weight="bold" stroke="#000" stroke-width="0.22" font-size="6.8" text-anchor="middle" textLength="9.9" lengthAdjust="spacingAndGlyphs">200</text>
<path d="M230.7 290.9 V293.1" stroke="#444" stroke-width="1.2"/>
<text x="230.7" y="301.1" font-family="Liberation Sans, sans-serif" font-weight="bold" stroke="#000" stroke-width="0.22" font-size="6.8" text-anchor="middle" textLength="9.9" lengthAdjust="spacingAndGlyphs">400</text>
<path d="M256.1 290.9 V293.1" stroke="#444" stroke-width="1.2"/>
<text x="256.1" y="301.1" font-family="Liberation Sans, sans-serif" font-weight="bold" stroke="#000" stroke-width="0.22" font-size="6.8" text-anchor="middle" textLength="9.9" lengthAdjust="spacingAndGlyphs">600</text>
<path d="M281.6 290.9 V293.1" stroke="#444" stroke-width="1.2"/>
<text x="281.6" y="301.1" font-family="Liberation Sans, sans-serif" font-weight="bold" stroke="#000" stroke-width="0.22" font-size="6.8" text-anchor="middle" textLength="9.9" lengthAdjust="spacingAndGlyphs">800</text>
<path d="M307.0 290.9 V293.1" stroke="#444" stroke-width="1.2"/>
<text x="307.0" y="301.1" font-family="Liberation Sans, sans-serif" font-weight="bold" stroke="#000" stroke-width="0.22" font-size="6.8" text-anchor="middle" textLength="13.2" lengthAdjust="spacingAndGlyphs">1000</text>
<text x="243.3" y="309.1" font-family="Liberation Sans, sans-serif" font-weight="bold" stroke="#000" stroke-width="0.22" font-size="7" text-anchor="middle">Concentration [nM]</text>
<path d="M179.93 200.10 L180.05 201.92 L180.31 204.64 L180.82 207.36 L181.84 206.46 L183.74 204.64 L187.75 204.64 L195.70 207.55 L211.60 212.81 L243.40 219.17 L307.00 235.15" stroke="#000" stroke-width="1.15" fill="none"/>
<path d="M179.93 197.38 V202.82 M178.13 197.38 H181.73 M178.13 202.82 H181.73" stroke="#000" stroke-width="1.1" fill="none"/>
<path d="M180.05 199.19 V204.64 M178.25 199.19 H181.85 M178.25 204.64 H181.85" stroke="#000" stroke-width="1.1" fill="none"/>
<path d="M180.31 201.92 V207.36 M178.51 201.92 H182.11 M178.51 207.36 H182.11" stroke="#000" stroke-width="1.1" fill="none"/>
<path d="M180.82 204.64 V210.09 M179.02 204.64 H182.62 M179.02 210.09 H182.62" stroke="#000" stroke-width="1.1" fill="none"/>
<path d="M181.84 203.73 V209.18 M180.04 203.73 H183.64 M180.04 209.18 H183.64" stroke="#000" stroke-width="1.1" fill="none"/>
<path d="M183.74 201.92 V207.36 M181.94 201.92 H185.54 M181.94 207.36 H185.54" stroke="#000" stroke-width="1.1" fill="none"/>
<path d="M187.75 201.92 V207.36 M185.95 201.92 H189.55 M185.95 207.36 H189.55" stroke="#000" stroke-width="1.1" fill="none"/>
<path d="M211.60 209.18 V216.44 M209.80 209.18 H213.40 M209.80 216.44 H213.40" stroke="#000" stroke-width="1.1" fill="none"/>
<path d="M243.40 215.54 V222.80 M241.60 215.54 H245.20 M241.60 222.80 H245.20" stroke="#000" stroke-width="1.1" fill="none"/>
<path d="M179.93 196.47 L180.05 198.28 L180.31 200.10 L180.82 201.92 L181.84 203.73 L183.74 202.82 L187.75 202.82 L195.70 199.83 L211.60 201.28 L243.40 197.47 L307.00 200.10" stroke="#000" stroke-width="1.15" fill="none"/>
<path d="M179.93 189.20 V203.73 M178.13 189.20 H181.73 M178.13 203.73 H181.73" stroke="#000" stroke-width="1.1" fill="none"/>
<path d="M180.05 195.56 V201.01 M178.25 195.56 H181.85 M178.25 201.01 H181.85" stroke="#000" stroke-width="1.1" fill="none"/>
<path d="M180.31 197.38 V202.82 M178.51 197.38 H182.11 M178.51 202.82 H182.11" stroke="#000" stroke-width="1.1" fill="none"/>
<path d="M180.82 199.19 V204.64 M179.02 199.19 H182.62 M179.02 204.64 H182.62" stroke="#000" stroke-width="1.1" fill="none"/>
<path d="M181.84 201.01 V206.46 M180.04 201.01 H183.64 M180.04 206.46 H183.64" stroke="#000" stroke-width="1.1" fill="none"/>
<path d="M183.74 200.10 V205.55 M181.94 200.10 H185.54 M181.94 205.55 H185.54" stroke="#000" stroke-width="1.1" fill="none"/>
<path d="M179.93 200.10 L180.05 201.92 L180.31 204.64 L180.82 207.36 L181.84 211.00 L183.74 211.90 L187.75 209.18 L195.70 208.27 L211.60 214.63 L243.40 221.35 L307.00 262.75" stroke="#000" stroke-width="1.15" fill="none"/>
<path d="M179.93 197.38 V202.82 M178.13 197.38 H181.73 M178.13 202.82 H181.73" stroke="#000" stroke-width="1.1" fill="none"/>
<path d="M180.05 199.19 V204.64 M178.25 199.19 H181.85 M178.25 204.64 H181.85" stroke="#000" stroke-width="1.1" fill="none"/>
<path d="M180.31 201.92 V207.36 M178.51 201.92 H182.11 M178.51 207.36 H182.11" stroke="#000" stroke-width="1.1" fill="none"/>
<path d="M180.82 204.64 V210.09 M179.02 204.64 H182.62 M179.02 210.09 H182.62" stroke="#000" stroke-width="1.1" fill="none"/>
<path d="M181.84 208.27 V213.72 M180.04 208.27 H183.64 M180.04 213.72 H183.64" stroke="#000" stroke-width="1.1" fill="none"/>
<path d="M183.74 209.18 V214.63 M181.94 209.18 H185.54 M181.94 214.63 H185.54" stroke="#000" stroke-width="1.1" fill="none"/>
<path d="M187.75 206.46 V211.90 M185.95 206.46 H189.55 M185.95 211.90 H189.55" stroke="#000" stroke-width="1.1" fill="none"/>
<path d="M211.60 211.90 V217.35 M209.80 211.90 H213.40 M209.80 217.35 H213.40" stroke="#000" stroke-width="1.1" fill="none"/>
<path d="M243.40 217.72 V224.98 M241.60 217.72 H245.20 M241.60 224.98 H245.20" stroke="#000" stroke-width="1.1" fill="none"/>
<path d="M307.00 259.12 V266.38 M305.20 259.12 H308.80 M305.20 266.38 H308.80" stroke="#000" stroke-width="1.1" fill="none"/>
<path d="M179.93 197.30 L182.33 202.00 L177.53 202.00 Z" fill="#fff" stroke="#000" stroke-width="1.2"/>
<path d="M180.05 199.12 L182.45 203.82 L177.65 203.82 Z" fill="#fff" stroke="#000" stroke-width="1.2"/>
<path d="M180.31 201.84 L182.71 206.54 L177.91 206.54 Z" fill="#fff" stroke="#000" stroke-width="1.2"/>
<path d="M180.82 204.56 L183.22 209.26 L178.42 209.26 Z" fill="#fff" stroke="#000" stroke-width="1.2"/>
<path d="M181.84 203.66 L184.24 208.36 L179.44 208.36 Z" fill="#fff" stroke="#000" stroke-width="1.2"/>
<path d="M183.74 201.84 L186.14 206.54 L181.34 206.54 Z" fill="#fff" stroke="#000" stroke-width="1.2"/>
<path d="M187.75 201.84 L190.15 206.54 L185.35 206.54 Z" fill="#fff" stroke="#000" stroke-width="1.2"/>
<path d="M195.70 204.75 L198.10 209.45 L193.30 209.45 Z" fill="#fff" stroke="#000" stroke-width="1.2"/>
<path d="M211.60 210.01 L214.00 214.71 L209.20 214.71 Z" fill="#fff" stroke="#000" stroke-width="1.2"/>
<path d="M243.40 216.37 L245.80 221.07 L241.00 221.07 Z" fill="#fff" stroke="#000" stroke-width="1.2"/>
<path d="M307.00 232.35 L309.40 237.05 L304.60 237.05 Z" fill="#fff" stroke="#000" stroke-width="1.2"/>
<rect x="177.88" y="194.12" width="4.1" height="4.7" rx="0.6" fill="#fff" stroke="#000" stroke-width="1.3"/>
<rect x="178.00" y="195.93" width="4.1" height="4.7" rx="0.6" fill="#fff" stroke="#000" stroke-width="1.3"/>
<rect x="178.26" y="197.75" width="4.1" height="4.7" rx="0.6" fill="#fff" stroke="#000" stroke-width="1.3"/>
<rect x="178.77" y="199.57" width="4.1" height="4.7" rx="0.6" fill="#fff" stroke="#000" stroke-width="1.3"/>
<rect x="179.79" y="201.38" width="4.1" height="4.7" rx="0.6" fill="#fff" stroke="#000" stroke-width="1.3"/>
<rect x="181.69" y="200.47" width="4.1" height="4.7" rx="0.6" fill="#fff" stroke="#000" stroke-width="1.3"/>
<rect x="185.70" y="200.47" width="4.1" height="4.7" rx="0.6" fill="#fff" stroke="#000" stroke-width="1.3"/>
<rect x="193.65" y="197.48" width="4.1" height="4.7" rx="0.6" fill="#fff" stroke="#000" stroke-width="1.3"/>
<rect x="209.55" y="198.93" width="4.1" height="4.7" rx="0.6" fill="#fff" stroke="#000" stroke-width="1.3"/>
<rect x="241.35" y="195.12" width="4.1" height="4.7" rx="0.6" fill="#fff" stroke="#000" stroke-width="1.3"/>
<rect x="304.95" y="197.75" width="4.1" height="4.7" rx="0.6" fill="#fff" stroke="#000" stroke-width="1.3"/>
<ellipse cx="179.93" cy="200.10" rx="2.35" ry="2.6" fill="#000"/>
<ellipse cx="180.05" cy="201.92" rx="2.35" ry="2.6" fill="#000"/>
<ellipse cx="180.31" cy="204.64" rx="2.35" ry="2.6" fill="#000"/>
<ellipse cx="180.82" cy="207.36" rx="2.35" ry="2.6" fill="#000"/>
<ellipse cx="181.84" cy="211.00" rx="2.35" ry="2.6" fill="#000"/>
<ellipse cx="183.74" cy="211.90" rx="2.35" ry="2.6" fill="#000"/>
<ellipse cx="187.75" cy="209.18" rx="2.35" ry="2.6" fill="#000"/>
<ellipse cx="195.70" cy="208.27" rx="2.35" ry="2.6" fill="#000"/>
<ellipse cx="211.60" cy="214.63" rx="2.35" ry="2.6" fill="#000"/>
<ellipse cx="243.40" cy="221.35" rx="2.35" ry="2.6" fill="#000"/>
<ellipse cx="307.00" cy="262.75" rx="2.35" ry="2.6" fill="#000"/>
<rect x="311.9" y="293" width="3" height="8" fill="#fff"/>
<text x="393.9" y="167.5" font-family="Liberation Sans, sans-serif" font-weight="bold" stroke="#000" stroke-width="0.22" font-size="8.6" text-anchor="middle" textLength="98.9" lengthAdjust="spacingAndGlyphs">Patient 17 (FLT3-ITD/TKD)</text>
<path d="M331.3 177.4 V293.1 M329.1 290.9 H458.5" stroke="#444" stroke-width="1.2" fill="none"/>
<path d="M329.1 290.9 H331.3" stroke="#444" stroke-width="1.2"/>
<text x="328.0" y="293.3" font-family="Liberation Sans, sans-serif" font-weight="bold" stroke="#000" stroke-width="0.22" font-size="6.8" text-anchor="end" textLength="3.3" lengthAdjust="spacingAndGlyphs">0</text>
<path d="M329.1 268.2 H331.3" stroke="#444" stroke-width="1.2"/>
<text x="328.0" y="270.6" font-family="Liberation Sans, sans-serif" font-weight="bold" stroke="#000" stroke-width="0.22" font-size="6.8" text-anchor="end" textLength="6.6" lengthAdjust="spacingAndGlyphs">25</text>
<path d="M329.1 245.5 H331.3" stroke="#444" stroke-width="1.2"/>
<text x="328.0" y="247.9" font-family="Liberation Sans, sans-serif" font-weight="bold" stroke="#000" stroke-width="0.22" font-size="6.8" text-anchor="end" textLength="6.6" lengthAdjust="spacingAndGlyphs">50</text>
<path d="M329.1 222.8 H331.3" stroke="#444" stroke-width="1.2"/>
<text x="328.0" y="225.2" font-family="Liberation Sans, sans-serif" font-weight="bold" stroke="#000" stroke-width="0.22" font-size="6.8" text-anchor="end" textLength="6.6" lengthAdjust="spacingAndGlyphs">75</text>
<path d="M329.1 200.1 H331.3" stroke="#444" stroke-width="1.2"/>
<text x="328.0" y="202.5" font-family="Liberation Sans, sans-serif" font-weight="bold" stroke="#000" stroke-width="0.22" font-size="6.8" text-anchor="end" textLength="9.9" lengthAdjust="spacingAndGlyphs">100</text>
<path d="M329.1 177.4 H331.3" stroke="#444" stroke-width="1.2"/>
<text x="328.0" y="179.8" font-family="Liberation Sans, sans-serif" font-weight="bold" stroke="#000" stroke-width="0.22" font-size="6.8" text-anchor="end" textLength="9.9" lengthAdjust="spacingAndGlyphs">125</text>
<path d="M331.3 290.9 V293.1" stroke="#444" stroke-width="1.2"/>
<text x="331.3" y="301.1" font-family="Liberation Sans, sans-serif" font-weight="bold" stroke="#000" stroke-width="0.22" font-size="6.8" text-anchor="middle" textLength="3.3" lengthAdjust="spacingAndGlyphs">0</text>
<path d="M356.7 290.9 V293.1" stroke="#444" stroke-width="1.2"/>
<text x="356.7" y="301.1" font-family="Liberation Sans, sans-serif" font-weight="bold" stroke="#000" stroke-width="0.22" font-size="6.8" text-anchor="middle" textLength="9.9" lengthAdjust="spacingAndGlyphs">200</text>
<path d="M382.2 290.9 V293.1" stroke="#444" stroke-width="1.2"/>
<text x="382.2" y="301.1" font-family="Liberation Sans, sans-serif" font-weight="bold" stroke="#000" stroke-width="0.22" font-size="6.8" text-anchor="middle" textLength="9.9" lengthAdjust="spacingAndGlyphs">400</text>
<path d="M407.6 290.9 V293.1" stroke="#444" stroke-width="1.2"/>
<text x="407.6" y="301.1" font-family="Liberation Sans, sans-serif" font-weight="bold" stroke="#000" stroke-width="0.22" font-size="6.8" text-anchor="middle" textLength="9.9" lengthAdjust="spacingAndGlyphs">600</text>
<path d="M433.1 290.9 V293.1" stroke="#444" stroke-width="1.2"/>
<text x="433.1" y="301.1" font-family="Liberation Sans, sans-serif" font-weight="bold" stroke="#000" stroke-width="0.22" font-size="6.8" text-anchor="middle" textLength="9.9" lengthAdjust="spacingAndGlyphs">800</text>
<path d="M458.5 290.9 V293.1" stroke="#444" stroke-width="1.2"/>
<text x="458.5" y="301.1" font-family="Liberation Sans, sans-serif" font-weight="bold" stroke="#000" stroke-width="0.22" font-size="6.8" text-anchor="middle" textLength="13.2" lengthAdjust="spacingAndGlyphs">1000</text>
<text x="394.8" y="309.1" font-family="Liberation Sans, sans-serif" font-weight="bold" stroke="#000" stroke-width="0.22" font-size="7" text-anchor="middle">Concentration [nM]</text>
<path d="M331.43 200.10 L331.55 201.92 L331.81 203.73 L332.32 203.73 L333.34 204.64 L335.24 204.64 L339.25 204.64 L347.20 207.36 L363.10 212.81 L394.90 216.81 L458.50 236.42" stroke="#000" stroke-width="1.15" fill="none"/>
<path d="M331.43 197.38 V202.82 M329.63 197.38 H333.23 M329.63 202.82 H333.23" stroke="#000" stroke-width="1.1" fill="none"/>
<path d="M331.55 199.19 V204.64 M329.75 199.19 H333.35 M329.75 204.64 H333.35" stroke="#000" stroke-width="1.1" fill="none"/>
<path d="M331.81 201.01 V206.46 M330.01 201.01 H333.61 M330.01 206.46 H333.61" stroke="#000" stroke-width="1.1" fill="none"/>
<path d="M332.32 201.01 V206.46 M330.52 201.01 H334.12 M330.52 206.46 H334.12" stroke="#000" stroke-width="1.1" fill="none"/>
<path d="M333.34 201.92 V207.36 M331.54 201.92 H335.14 M331.54 207.36 H335.14" stroke="#000" stroke-width="1.1" fill="none"/>
<path d="M335.24 201.92 V207.36 M333.44 201.92 H337.04 M333.44 207.36 H337.04" stroke="#000" stroke-width="1.1" fill="none"/>
<path d="M363.10 210.09 V215.54 M361.30 210.09 H364.90 M361.30 215.54 H364.90" stroke="#000" stroke-width="1.1" fill="none"/>
<path d="M394.90 214.08 V219.53 M393.10 214.08 H396.70 M393.10 219.53 H396.70" stroke="#000" stroke-width="1.1" fill="none"/>
<path d="M331.43 200.10 L331.55 201.01 L331.81 201.92 L332.32 202.82 L333.34 203.73 L335.24 203.73 L339.25 203.73 L347.20 206.00 L363.10 204.37 L394.90 205.18 L458.50 216.44" stroke="#000" stroke-width="1.15" fill="none"/>
<path d="M331.43 196.47 V203.73 M329.63 196.47 H333.23 M329.63 203.73 H333.23" stroke="#000" stroke-width="1.1" fill="none"/>
<path d="M331.55 198.28 V203.73 M329.75 198.28 H333.35 M329.75 203.73 H333.35" stroke="#000" stroke-width="1.1" fill="none"/>
<path d="M331.81 199.19 V204.64 M330.01 199.19 H333.61 M330.01 204.64 H333.61" stroke="#000" stroke-width="1.1" fill="none"/>
<path d="M332.32 200.10 V205.55 M330.52 200.10 H334.12 M330.52 205.55 H334.12" stroke="#000" stroke-width="1.1" fill="none"/>
<path d="M333.34 201.01 V206.46 M331.54 201.01 H335.14 M331.54 206.46 H335.14" stroke="#000" stroke-width="1.1" fill="none"/>
<path d="M335.24 201.01 V206.46 M333.44 201.01 H337.04 M333.44 206.46 H337.04" stroke="#000" stroke-width="1.1" fill="none"/>
<path d="M347.20 202.37 V209.63 M345.40 202.37 H349.00 M345.40 209.63 H349.00" stroke="#000" stroke-width="1.1" fill="none"/>
<path d="M363.10 201.64 V207.09 M361.30 201.64 H364.90 M361.30 207.09 H364.90" stroke="#000" stroke-width="1.1" fill="none"/>
<path d="M394.90 201.55 V208.82 M393.10 201.55 H396.70 M393.10 208.82 H396.70" stroke="#000" stroke-width="1.1" fill="none"/>
<path d="M331.43 201.92 L331.55 203.73 L331.81 205.55 L332.32 207.36 L333.34 205.55 L335.24 206.46 L339.25 213.36 L347.20 211.27 L363.10 215.26 L394.90 227.52 L458.50 244.77" stroke="#000" stroke-width="1.15" fill="none"/>
<path d="M331.43 199.19 V204.64 M329.63 199.19 H333.23 M329.63 204.64 H333.23" stroke="#000" stroke-width="1.1" fill="none"/>
<path d="M331.55 201.01 V206.46 M329.75 201.01 H333.35 M329.75 206.46 H333.35" stroke="#000" stroke-width="1.1" fill="none"/>
<path d="M331.81 202.82 V208.27 M330.01 202.82 H333.61 M330.01 208.27 H333.61" stroke="#000" stroke-width="1.1" fill="none"/>
<path d="M332.32 204.64 V210.09 M330.52 204.64 H334.12 M330.52 210.09 H334.12" stroke="#000" stroke-width="1.1" fill="none"/>
<path d="M333.34 202.82 V208.27 M331.54 202.82 H335.14 M331.54 208.27 H335.14" stroke="#000" stroke-width="1.1" fill="none"/>
<path d="M335.24 203.73 V209.18 M333.44 203.73 H337.04 M333.44 209.18 H337.04" stroke="#000" stroke-width="1.1" fill="none"/>
<path d="M363.10 212.54 V217.99 M361.30 212.54 H364.90 M361.30 217.99 H364.90" stroke="#000" stroke-width="1.1" fill="none"/>
<path d="M394.90 222.98 V232.06 M393.10 222.98 H396.70 M393.10 232.06 H396.70" stroke="#000" stroke-width="1.1" fill="none"/>
<path d="M331.43 197.30 L333.83 202.00 L329.03 202.00 Z" fill="#fff" stroke="#000" stroke-width="1.2"/>
<path d="M331.55 199.12 L333.95 203.82 L329.15 203.82 Z" fill="#fff" stroke="#000" stroke-width="1.2"/>
<path d="M331.81 200.93 L334.21 205.63 L329.41 205.63 Z" fill="#fff" stroke="#000" stroke-width="1.2"/>
<path d="M332.32 200.93 L334.72 205.63 L329.92 205.63 Z" fill="#fff" stroke="#000" stroke-width="1.2"/>
<path d="M333.34 201.84 L335.74 206.54 L330.94 206.54 Z" fill="#fff" stroke="#000" stroke-width="1.2"/>
<path d="M335.24 201.84 L337.64 206.54 L332.84 206.54 Z" fill="#fff" stroke="#000" stroke-width="1.2"/>
<path d="M339.25 201.84 L341.65 206.54 L336.85 206.54 Z" fill="#fff" stroke="#000" stroke-width="1.2"/>
<path d="M347.20 204.56 L349.60 209.26 L344.80 209.26 Z" fill="#fff" stroke="#000" stroke-width="1.2"/>
<path d="M363.10 210.01 L365.50 214.71 L360.70 214.71 Z" fill="#fff" stroke="#000" stroke-width="1.2"/>
<path d="M394.90 214.01 L397.30 218.71 L392.50 218.71 Z" fill="#fff" stroke="#000" stroke-width="1.2"/>
<path d="M458.50 233.62 L460.90 238.32 L456.10 238.32 Z" fill="#fff" stroke="#000" stroke-width="1.2"/>
<rect x="329.38" y="197.75" width="4.1" height="4.7" rx="0.6" fill="#fff" stroke="#000" stroke-width="1.3"/>
<rect x="329.50" y="198.66" width="4.1" height="4.7" rx="0.6" fill="#fff" stroke="#000" stroke-width="1.3"/>
<rect x="329.76" y="199.57" width="4.1" height="4.7" rx="0.6" fill="#fff" stroke="#000" stroke-width="1.3"/>
<rect x="330.27" y="200.47" width="4.1" height="4.7" rx="0.6" fill="#fff" stroke="#000" stroke-width="1.3"/>
<rect x="331.29" y="201.38" width="4.1" height="4.7" rx="0.6" fill="#fff" stroke="#000" stroke-width="1.3"/>
<rect x="333.19" y="201.38" width="4.1" height="4.7" rx="0.6" fill="#fff" stroke="#000" stroke-width="1.3"/>
<rect x="337.20" y="201.38" width="4.1" height="4.7" rx="0.6" fill="#fff" stroke="#000" stroke-width="1.3"/>
<rect x="345.15" y="203.65" width="4.1" height="4.7" rx="0.6" fill="#fff" stroke="#000" stroke-width="1.3"/>
<rect x="361.05" y="202.02" width="4.1" height="4.7" rx="0.6" fill="#fff" stroke="#000" stroke-width="1.3"/>
<rect x="392.85" y="202.83" width="4.1" height="4.7" rx="0.6" fill="#fff" stroke="#000" stroke-width="1.3"/>
<rect x="456.45" y="214.09" width="4.1" height="4.7" rx="0.6" fill="#fff" stroke="#000" stroke-width="1.3"/>
<ellipse cx="331.43" cy="201.92" rx="2.35" ry="2.6" fill="#000"/>
<ellipse cx="331.55" cy="203.73" rx="2.35" ry="2.6" fill="#000"/>
<ellipse cx="331.81" cy="205.55" rx="2.35" ry="2.6" fill="#000"/>
<ellipse cx="332.32" cy="207.36" rx="2.35" ry="2.6" fill="#000"/>
<ellipse cx="333.34" cy="205.55" rx="2.35" ry="2.6" fill="#000"/>
<ellipse cx="335.24" cy="206.46" rx="2.35" ry="2.6" fill="#000"/>
<ellipse cx="339.25" cy="213.36" rx="2.35" ry="2.6" fill="#000"/>
<ellipse cx="347.20" cy="211.27" rx="2.35" ry="2.6" fill="#000"/>
<ellipse cx="363.10" cy="215.26" rx="2.35" ry="2.6" fill="#000"/>
<ellipse cx="394.90" cy="227.52" rx="2.35" ry="2.6" fill="#000"/>
<ellipse cx="458.50" cy="244.77" rx="2.35" ry="2.6" fill="#000"/>
<path d="M473.5 11.6 H484" stroke="#000" stroke-width="1.1"/>
<ellipse cx="478.60" cy="11.60" rx="2.35" ry="2.6" fill="#000"/>
<text x="489.7" y="14.2" font-family="Liberation Sans, sans-serif" font-weight="bold" stroke="#000" stroke-width="0.22" font-size="7.8">G-749</text>
<path d="M473.5 22.8 H484" stroke="#000" stroke-width="1.1"/>
<rect x="476.00" y="20.70" width="5.2" height="4.2" rx="0.6" fill="#fff" stroke="#000" stroke-width="1.3"/>
<path d="M476.00 22.80 H481.20" stroke="#000" stroke-width="0.8"/>
<text x="489.7" y="25.4" font-family="Liberation Sans, sans-serif" font-weight="bold" stroke="#000" stroke-width="0.22" font-size="7.8">AC220</text>
<path d="M473.5 34.2 H484" stroke="#000" stroke-width="1.1"/>
<path d="M478.60 31.40 L481.00 36.10 L476.20 36.10 Z" fill="#fff" stroke="#000" stroke-width="1.2"/>
<text x="489.7" y="36.8" font-family="Liberation Sans, sans-serif" font-weight="bold" stroke="#000" stroke-width="0.22" font-size="7.8">PKC412</text>
<text x="0.5" y="10.8" font-family="Liberation Sans, sans-serif" font-weight="bold" stroke="#000" stroke-width="0.22" font-size="12.4">A</text>
<text x="1.2" y="332.6" font-family="Liberation Sans, sans-serif" font-weight="bold" stroke="#000" stroke-width="0.22" font-size="12.2">B</text>
<text x="115.3" y="331.9" font-family="Liberation Sans, sans-serif" font-weight="bold" stroke="#000" stroke-width="0.22" font-size="10.5" text-anchor="middle">Patient 11</text>
<rect x="57.5" y="339" width="111.3" height="2.4" fill="#000"/>
<text x="229.2" y="331.9" font-family="Liberation Sans, sans-serif" font-weight="bold" stroke="#000" stroke-width="0.22" font-size="10.5" text-anchor="middle">Patient 12</text>
<rect x="174.5" y="339" width="110.5" height="2.4" fill="#000"/>
<text x="345.9" y="331.9" font-family="Liberation Sans, sans-serif" font-weight="bold" stroke="#000" stroke-width="0.22" font-size="10.5" text-anchor="middle">Patient 13</text>
<rect x="290.0" y="339" width="111.3" height="2.4" fill="#000"/>
<text x="460.9" y="331.9" font-family="Liberation Sans, sans-serif" font-weight="bold" stroke="#000" stroke-width="0.22" font-size="10.5" text-anchor="middle">Patient 14</text>
<rect x="405.5" y="339" width="111.5" height="2.4" fill="#000"/>
<text transform="translate(68.8,381.4) scale(1,1.19) rotate(-45)" font-family="Liberation Sans, sans-serif" font-weight="bold" stroke="#000" stroke-width="0.22" font-size="9.6">DMSO</text>
<text transform="translate(94.3,381.4) scale(1,1.19) rotate(-45)" font-family="Liberation Sans, sans-serif" font-weight="bold" stroke="#000" stroke-width="0.22" font-size="9.6">G-749</text>
<text transform="translate(118.8,381.4) scale(1,1.19) rotate(-45)" font-family="Liberation Sans, sans-serif" font-weight="bold" stroke="#000" stroke-width="0.22" font-size="9.6">AC220</text>
<text transform="translate(144.3,381.4) scale(1,1.19) rotate(-45)" font-family="Liberation Sans, sans-serif" font-weight="bold" stroke="#000" stroke-width="0.22" font-size="9.6">PKC412</text>
<text transform="translate(187.3,381.4) scale(1,1.19) rotate(-45)" font-family="Liberation Sans, sans-serif" font-weight="bold" stroke="#000" stroke-width="0.22" font-size="9.6">DMSO</text>
<text transform="translate(213.1,381.4) scale(1,1.19) rotate(-45)" font-family="Liberation Sans, sans-serif" font-weight="bold" stroke="#000" stroke-width="0.22" font-size="9.6">G-749</text>
<text transform="translate(237.3,381.4) scale(1,1.19) rotate(-45)" font-family="Liberation Sans, sans-serif" font-weight="bold" stroke="#000" stroke-width="0.22" font-size="9.6">AC220</text>
<text transform="translate(263.1,381.4) scale(1,1.19) rotate(-45)" font-family="Liberation Sans, sans-serif" font-weight="bold" stroke="#000" stroke-width="0.22" font-size="9.6">PKC412</text>
<text transform="translate(301.3,381.4) scale(1,1.19) rotate(-45)" font-family="Liberation Sans, sans-serif" font-weight="bold" stroke="#000" stroke-width="0.22" font-size="9.6">DMSO</text>
<text transform="translate(326.8,381.4) scale(1,1.19) rotate(-45)" font-family="Liberation Sans, sans-serif" font-weight="bold" stroke="#000" stroke-width="0.22" font-size="9.6">G-749</text>
<text transform="translate(351.3,381.4) scale(1,1.19) rotate(-45)" font-family="Liberation Sans, sans-serif" font-weight="bold" stroke="#000" stroke-width="0.22" font-size="9.6">AC220</text>
<text transform="translate(376.8,381.4) scale(1,1.19) rotate(-45)" font-family="Liberation Sans, sans-serif" font-weight="bold" stroke="#000" stroke-width="0.22" font-size="9.6">PKC412</text>
<text transform="translate(416.8,381.4) scale(1,1.19) rotate(-45)" font-family="Liberation Sans, sans-serif" font-weight="bold" stroke="#000" stroke-width="0.22" font-size="9.6">DMSO</text>
<text transform="translate(443.1,381.4) scale(1,1.19) rotate(-45)" font-family="Liberation Sans, sans-serif" font-weight="bold" stroke="#000" stroke-width="0.22" font-size="9.6">G-749</text>
<text transform="translate(466.8,381.4) scale(1,1.19) rotate(-45)" font-family="Liberation Sans, sans-serif" font-weight="bold" stroke="#000" stroke-width="0.22" font-size="9.6">AC220</text>
<text transform="translate(493.1,381.4) scale(1,1.19) rotate(-45)" font-family="Liberation Sans, sans-serif" font-weight="bold" stroke="#000" stroke-width="0.22" font-size="9.6">PKC412</text>
<text x="50.4" y="403.2" font-family="Liberation Sans, sans-serif" font-weight="bold" stroke="#000" stroke-width="0.22" font-size="11" text-anchor="end">p-FLT3</text>
<text x="50.4" y="432.2" font-family="Liberation Sans, sans-serif" font-weight="bold" stroke="#000" stroke-width="0.22" font-size="11" text-anchor="end">FLT3</text>
<text x="50.4" y="464.5" font-family="Liberation Sans, sans-serif" font-weight="bold" stroke="#000" stroke-width="0.22" font-size="11" text-anchor="end">p-STAT5</text>
<text x="50.4" y="494.3" font-family="Liberation Sans, sans-serif" font-weight="bold" stroke="#000" stroke-width="0.22" font-size="11" text-anchor="end">STAT5</text>
<text x="50.4" y="526.0" font-family="Liberation Sans, sans-serif" font-weight="bold" stroke="#000" stroke-width="0.22" font-size="11" text-anchor="end">p-AKT</text>
<text x="50.4" y="556.4" font-family="Liberation Sans, sans-serif" font-weight="bold" stroke="#000" stroke-width="0.22" font-size="11" text-anchor="end">AKT</text>
<text x="50.4" y="591.9" font-family="Liberation Sans, sans-serif" font-weight="bold" stroke="#000" stroke-width="0.22" font-size="11" text-anchor="end">p-ERK1/2</text>
<text x="50.4" y="621.1" font-family="Liberation Sans, sans-serif" font-weight="bold" stroke="#000" stroke-width="0.22" font-size="11" text-anchor="end">ERK1/2</text>
<defs><filter id="bl" x="-20%" y="-60%" width="140%" height="220%"><feGaussianBlur stdDeviation="1.0"/></filter><filter id="bl2" x="-30%" y="-30%" width="160%" height="160%"><feGaussianBlur stdDeviation="2.2"/></filter></defs>
<clipPath id="c00"><rect x="59.4" y="384.3" width="107.7" height="26.8"/></clipPath>
<g clip-path="url(#c00)">
<rect x="59.4" y="384.3" width="107.7" height="26.8" fill="#d6d6d6"/>
<rect x="65.7" y="384.0" width="21.0" height="12.0" rx="3.0" fill="#b4b4b4" opacity="1.0" filter="url(#bl2)"/>
<rect x="91.3" y="384.0" width="21.0" height="12.0" rx="3.0" fill="#b4b4b4" opacity="1.0" filter="url(#bl2)"/>
<rect x="115.2" y="384.0" width="21.0" height="12.0" rx="3.0" fill="#b4b4b4" opacity="1.0" filter="url(#bl2)"/>
<rect x="139.5" y="384.0" width="21.0" height="12.0" rx="3.0" fill="#b4b4b4" opacity="1.0" filter="url(#bl2)"/>
<rect x="65.7" y="396.0" width="21.0" height="16.0" rx="3.0" fill="#7e7e7e" opacity="1.0" filter="url(#bl2)"/>
<rect x="91.3" y="396.0" width="21.0" height="16.0" rx="3.0" fill="#a0a0a0" opacity="1.0" filter="url(#bl2)"/>
<rect x="115.2" y="396.0" width="21.0" height="16.0" rx="3.0" fill="#9c9c9c" opacity="1.0" filter="url(#bl2)"/>
<rect x="139.5" y="396.0" width="21.0" height="16.0" rx="3.0" fill="#7c7c7c" opacity="1.0" filter="url(#bl2)"/>
<rect x="65.2" y="395.6" width="22.0" height="5.5" rx="2.8" fill="#4e4e4e" opacity="1.0" filter="url(#bl)"/>
<rect x="90.8" y="395.6" width="22.0" height="5.5" rx="2.8" fill="#949494" opacity="1.0" filter="url(#bl)"/>
<rect x="114.7" y="395.6" width="22.0" height="5.5" rx="2.8" fill="#8a8a8a" opacity="1.0" filter="url(#bl)"/>
<rect x="139.0" y="395.6" width="22.0" height="5.5" rx="2.8" fill="#525252" opacity="1.0" filter="url(#bl)"/>
</g>
<rect x="59.4" y="384.3" width="107.7" height="26.8" fill="none" stroke="#3a3a3a" stroke-width="1.2"/>
<clipPath id="c01"><rect x="59.4" y="413.8" width="107.7" height="28.2"/></clipPath>
<g clip-path="url(#c01)">
<rect x="59.4" y="413.8" width="107.7" height="28.2" fill="#d2d2d2"/>
<rect x="65.7" y="417.0" width="21.0" height="23.0" rx="3.0" fill="#2e2e2e" opacity="1.0" filter="url(#bl2)"/>
<rect x="91.3" y="417.0" width="21.0" height="23.0" rx="3.0" fill="#2e2e2e" opacity="1.0" filter="url(#bl2)"/>
<rect x="115.2" y="417.0" width="21.0" height="23.0" rx="3.0" fill="#2e2e2e" opacity="1.0" filter="url(#bl2)"/>
<rect x="139.5" y="417.0" width="21.0" height="23.0" rx="3.0" fill="#2e2e2e" opacity="1.0" filter="url(#bl2)"/>
<rect x="65.7" y="419.0" width="21.0" height="8.0" rx="3.0" fill="#242424" opacity="1.0" filter="url(#bl)"/>
<rect x="91.3" y="419.0" width="21.0" height="8.0" rx="3.0" fill="#242424" opacity="1.0" filter="url(#bl)"/>
<rect x="115.2" y="419.0" width="21.0" height="8.0" rx="3.0" fill="#242424" opacity="1.0" filter="url(#bl)"/>
<rect x="139.5" y="419.0" width="21.0" height="8.0" rx="3.0" fill="#242424" opacity="1.0" filter="url(#bl)"/>
<rect x="65.7" y="429.5" width="21.0" height="8.0" rx="3.0" fill="#242424" opacity="1.0" filter="url(#bl)"/>
<rect x="91.3" y="429.5" width="21.0" height="8.0" rx="3.0" fill="#242424" opacity="1.0" filter="url(#bl)"/>
<rect x="115.2" y="429.5" width="21.0" height="8.0" rx="3.0" fill="#242424" opacity="1.0" filter="url(#bl)"/>
<rect x="139.5" y="429.5" width="21.0" height="8.0" rx="3.0" fill="#242424" opacity="1.0" filter="url(#bl)"/>
</g>
<rect x="59.4" y="413.8" width="107.7" height="28.2" fill="none" stroke="#3a3a3a" stroke-width="1.2"/>
<clipPath id="c02"><rect x="59.4" y="444.9" width="107.7" height="29.2"/></clipPath>
<g clip-path="url(#c02)">
<rect x="59.4" y="444.9" width="107.7" height="29.2" fill="#ececec"/>
<rect x="65.7" y="453.2" width="21.0" height="5.5" rx="2.8" fill="#363636" opacity="1.0" filter="url(#bl)"/>
<rect x="65.7" y="465.2" width="21.0" height="4.0" rx="2.0" fill="#7a7a7a" opacity="1.0" filter="url(#bl)"/>
</g>
<rect x="59.4" y="444.9" width="107.7" height="29.2" fill="none" stroke="#3a3a3a" stroke-width="1.2"/>
<clipPath id="c03"><rect x="59.4" y="476.7" width="107.7" height="30.2"/></clipPath>
<g clip-path="url(#c03)">
<rect x="59.4" y="476.7" width="107.7" height="30.2" fill="#e6e6e6"/>
<rect x="65.7" y="490.0" width="21.0" height="10.0" rx="3.0" fill="#bdbdbd" opacity="1.0" filter="url(#bl2)"/>
<rect x="91.3" y="490.0" width="21.0" height="10.0" rx="3.0" fill="#bdbdbd" opacity="1.0" filter="url(#bl2)"/>
<rect x="115.2" y="490.0" width="21.0" height="10.0" rx="3.0" fill="#bdbdbd" opacity="1.0" filter="url(#bl2)"/>
<rect x="139.5" y="490.0" width="21.0" height="10.0" rx="3.0" fill="#bdbdbd" opacity="1.0" filter="url(#bl2)"/>
<rect x="65.2" y="484.5" width="22.0" height="7.0" rx="3.0" fill="#1c1c1c" opacity="1.0" filter="url(#bl)"/>
<rect x="91.8" y="484.5" width="20.0" height="7.0" rx="3.0" fill="#1c1c1c" opacity="1.0" filter="url(#bl)"/>
<rect x="115.2" y="484.5" width="21.0" height="7.0" rx="3.0" fill="#1c1c1c" opacity="1.0" filter="url(#bl)"/>
<rect x="139.0" y="484.5" width="22.0" height="7.0" rx="3.0" fill="#1c1c1c" opacity="1.0" filter="url(#bl)"/>
<rect x="65.2" y="497.3" width="22.0" height="7.0" rx="3.0" fill="#505050" opacity="1.0" filter="url(#bl)"/>
<rect x="91.8" y="497.3" width="20.0" height="7.0" rx="3.0" fill="#505050" opacity="1.0" filter="url(#bl)"/>
<rect x="115.2" y="497.3" width="21.0" height="7.0" rx="3.0" fill="#505050" opacity="1.0" filter="url(#bl)"/>
<rect x="139.0" y="497.3" width="22.0" height="7.0" rx="3.0" fill="#505050" opacity="1.0" filter="url(#bl)"/>
</g>
<rect x="59.4" y="476.7" width="107.7" height="30.2" fill="none" stroke="#3a3a3a" stroke-width="1.2"/>
<clipPath id="c04"><rect x="59.4" y="510.5" width="107.7" height="25.7"/></clipPath>
<g clip-path="url(#c04)">
<rect x="59.4" y="510.5" width="107.7" height="25.7" fill="#e6e6e6"/>
<rect x="64.7" y="520.2" width="23.0" height="6.0" rx="3.0" fill="#262626" opacity="1.0" filter="url(#bl)"/>
<rect x="91.8" y="520.2" width="20.0" height="6.0" rx="3.0" fill="#b0b0b0" opacity="1.0" filter="url(#bl)"/>
<rect x="115.7" y="520.2" width="20.0" height="6.0" rx="3.0" fill="#a2a2a2" opacity="1.0" filter="url(#bl)" transform="rotate(-3 125.7 523.2)"/>
<rect x="138.5" y="520.2" width="23.0" height="6.0" rx="3.0" fill="#303030" opacity="1.0" filter="url(#bl)" transform="rotate(5 150.0 523.2)"/>
</g>
<rect x="59.4" y="510.5" width="107.7" height="25.7" fill="none" stroke="#3a3a3a" stroke-width="1.2"/>
<clipPath id="c05"><rect x="59.4" y="539.2" width="107.7" height="29.6"/></clipPath>
<g clip-path="url(#c05)">
<rect x="59.4" y="539.2" width="107.7" height="29.6" fill="#e8e8e8"/>
<rect x="63.7" y="548.0" width="25.0" height="8.5" rx="3.0" fill="#262626" opacity="1.0" filter="url(#bl)"/>
<rect x="90.8" y="548.0" width="22.0" height="8.5" rx="3.0" fill="#262626" opacity="1.0" filter="url(#bl)"/>
<rect x="114.2" y="548.0" width="23.0" height="8.5" rx="3.0" fill="#262626" opacity="1.0" filter="url(#bl)"/>
<rect x="137.5" y="548.0" width="25.0" height="8.5" rx="3.0" fill="#262626" opacity="1.0" filter="url(#bl)"/>
<rect x="64.7" y="557.1" width="23.0" height="4.2" rx="2.1" fill="#555" opacity="1.0" filter="url(#bl)"/>
<rect x="91.3" y="557.1" width="21.0" height="4.2" rx="2.1" fill="#3a3a3a" opacity="1.0" filter="url(#bl)"/>
<rect x="115.2" y="557.1" width="21.0" height="4.2" rx="2.1" fill="#3a3a3a" opacity="1.0" filter="url(#bl)"/>
<rect x="138.5" y="557.1" width="23.0" height="4.2" rx="2.1" fill="#555" opacity="1.0" filter="url(#bl)"/>
</g>
<rect x="59.4" y="539.2" width="107.7" height="29.6" fill="none" stroke="#3a3a3a" stroke-width="1.2"/>
<clipPath id="c06"><rect x="59.4" y="571.6" width="107.7" height="29.4"/></clipPath>
<g clip-path="url(#c06)">
<rect x="59.4" y="571.6" width="107.7" height="29.4" fill="#e2e2e2"/>
<rect x="65.2" y="580.0" width="22.0" height="4.5" rx="2.2" fill="#333" opacity="1.0" filter="url(#bl)"/>
<rect x="91.8" y="581.0" width="20.0" height="3.5" rx="1.8" fill="#c4c4c4" opacity="1.0" filter="url(#bl)" transform="rotate(4 101.8 582.8)"/>
<rect x="115.2" y="580.6" width="21.0" height="4.0" rx="2.0" fill="#9a9a9a" opacity="1.0" filter="url(#bl)" transform="rotate(-6 125.7 582.6)"/>
<rect x="138.5" y="579.5" width="23.0" height="4.5" rx="2.2" fill="#3a3a3a" opacity="1.0" filter="url(#bl)" transform="rotate(-2 150.0 581.8)"/>
<rect x="64.7" y="586.2" width="23.0" height="5.5" rx="2.8" fill="#1e1e1e" opacity="1.0" filter="url(#bl)"/>
<rect x="91.3" y="587.5" width="21.0" height="5.0" rx="2.5" fill="#444" opacity="1.0" filter="url(#bl)" transform="rotate(10 101.8 590.0)"/>
<rect x="115.2" y="586.8" width="21.0" height="5.5" rx="2.8" fill="#333" opacity="1.0" filter="url(#bl)" transform="rotate(-10 125.7 589.5)"/>
<rect x="138.5" y="586.0" width="23.0" height="5.5" rx="2.8" fill="#222" opacity="1.0" filter="url(#bl)" transform="rotate(2 150.0 588.8)"/>
</g>
<rect x="59.4" y="571.6" width="107.7" height="29.4" fill="none" stroke="#3a3a3a" stroke-width="1.2"/>
<clipPath id="c07"><rect x="59.4" y="603.4" width="107.7" height="31.2"/></clipPath>
<g clip-path="url(#c07)">
<rect x="59.4" y="603.4" width="107.7" height="31.2" fill="#e8e8e8"/>
<rect x="64.2" y="611.0" width="24.0" height="16.0" rx="3.0" fill="#3a3a3a" opacity="1.0" filter="url(#bl2)"/>
<rect x="89.8" y="611.0" width="24.0" height="16.0" rx="3.0" fill="#6a6a6a" opacity="1.0" filter="url(#bl2)"/>
<rect x="113.7" y="611.0" width="24.0" height="16.0" rx="3.0" fill="#6a6a6a" opacity="1.0" filter="url(#bl2)"/>
<rect x="138.0" y="611.0" width="24.0" height="16.0" rx="3.0" fill="#3a3a3a" opacity="1.0" filter="url(#bl2)"/>
<rect x="63.7" y="612.1" width="25.0" height="7.0" rx="3.0" fill="#333" opacity="1.0" filter="url(#bl)"/>
<rect x="90.3" y="612.1" width="23.0" height="7.0" rx="3.0" fill="#333" opacity="1.0" filter="url(#bl)"/>
<rect x="114.2" y="612.1" width="23.0" height="7.0" rx="3.0" fill="#333" opacity="1.0" filter="url(#bl)"/>
<rect x="137.5" y="612.1" width="25.0" height="7.0" rx="3.0" fill="#333" opacity="1.0" filter="url(#bl)"/>
<rect x="63.7" y="619.3" width="25.0" height="7.0" rx="3.0" fill="#333" opacity="1.0" filter="url(#bl)"/>
<rect x="90.3" y="619.3" width="23.0" height="7.0" rx="3.0" fill="#333" opacity="1.0" filter="url(#bl)"/>
<rect x="114.2" y="619.3" width="23.0" height="7.0" rx="3.0" fill="#333" opacity="1.0" filter="url(#bl)"/>
<rect x="137.5" y="619.3" width="25.0" height="7.0" rx="3.0" fill="#333" opacity="1.0" filter="url(#bl)"/>
<rect x="63.7" y="616.7" width="25.0" height="5.0" rx="2.5" fill="#333" opacity="1.0" filter="url(#bl)"/>
<rect x="137.5" y="616.7" width="25.0" height="5.0" rx="2.5" fill="#333" opacity="1.0" filter="url(#bl)"/>
<rect x="65.2" y="629.0" width="22.0" height="2.5" rx="1.2" fill="#c8c8c8" opacity="1.0" filter="url(#bl)"/>
<rect x="90.8" y="629.0" width="22.0" height="2.5" rx="1.2" fill="#c8c8c8" opacity="1.0" filter="url(#bl)"/>
<rect x="114.7" y="629.0" width="22.0" height="2.5" rx="1.2" fill="#c8c8c8" opacity="1.0" filter="url(#bl)"/>
<rect x="139.0" y="629.0" width="22.0" height="2.5" rx="1.2" fill="#c8c8c8" opacity="1.0" filter="url(#bl)"/>
</g>
<rect x="59.4" y="603.4" width="107.7" height="31.2" fill="none" stroke="#3a3a3a" stroke-width="1.2"/>
<clipPath id="c10"><rect x="173.2" y="385.2" width="106.6" height="27.2"/></clipPath>
<g clip-path="url(#c10)">
<rect x="173.2" y="385.2" width="106.6" height="27.2" fill="#dadada"/>
<rect x="180.3" y="399.0" width="20.0" height="13.0" rx="3.0" fill="#b8b8b8" opacity="1.0" filter="url(#bl2)"/>
<rect x="203.5" y="399.0" width="20.0" height="13.0" rx="3.0" fill="#c4c4c4" opacity="1.0" filter="url(#bl2)"/>
<rect x="227.8" y="399.0" width="20.0" height="13.0" rx="3.0" fill="#b8b8b8" opacity="1.0" filter="url(#bl2)"/>
<rect x="251.5" y="399.0" width="20.0" height="13.0" rx="3.0" fill="#c0c0c0" opacity="1.0" filter="url(#bl2)"/>
<rect x="181.3" y="394.2" width="18.0" height="6.5" rx="3.0" fill="#222" opacity="1.0" filter="url(#bl)"/>
<rect x="204.5" y="394.2" width="18.0" height="6.5" rx="3.0" fill="#666" opacity="1.0" filter="url(#bl)"/>
<rect x="228.3" y="394.2" width="19.0" height="6.5" rx="3.0" fill="#202020" opacity="1.0" filter="url(#bl)"/>
<rect x="252.0" y="394.2" width="19.0" height="6.5" rx="3.0" fill="#2a2a2a" opacity="1.0" filter="url(#bl)" transform="rotate(-6 261.5 397.5)"/>
<rect x="205.0" y="403.1" width="17.0" height="3.0" rx="1.5" fill="#999" opacity="1.0" filter="url(#bl)"/>
</g>
<rect x="173.2" y="385.2" width="106.6" height="27.2" fill="none" stroke="#3a3a3a" stroke-width="1.2"/>
<clipPath id="c11"><rect x="173.2" y="415.7" width="106.6" height="27.4"/></clipPath>
<g clip-path="url(#c11)">
<rect x="173.2" y="415.7" width="106.6" height="27.4" fill="#d6d6d6"/>
<rect x="179.8" y="419.0" width="21.0" height="23.0" rx="3.0" fill="#9a9a9a" opacity="1.0" filter="url(#bl2)"/>
<rect x="203.0" y="419.0" width="21.0" height="23.0" rx="3.0" fill="#9a9a9a" opacity="1.0" filter="url(#bl2)"/>
<rect x="227.3" y="419.0" width="21.0" height="23.0" rx="3.0" fill="#9a9a9a" opacity="1.0" filter="url(#bl2)"/>
<rect x="251.0" y="419.0" width="21.0" height="23.0" rx="3.0" fill="#9a9a9a" opacity="1.0" filter="url(#bl2)"/>
<rect x="180.8" y="419.6" width="19.0" height="18.5" rx="3.0" fill="#2a2a2a" opacity="1.0" filter="url(#bl)"/>
<rect x="204.5" y="419.6" width="18.0" height="18.5" rx="3.0" fill="#2a2a2a" opacity="1.0" filter="url(#bl)"/>
<rect x="228.3" y="419.6" width="19.0" height="18.5" rx="3.0" fill="#2a2a2a" opacity="1.0" filter="url(#bl)"/>
<rect x="252.0" y="419.6" width="19.0" height="18.5" rx="3.0" fill="#2a2a2a" opacity="1.0" filter="url(#bl)"/>
<rect x="180.8" y="420.5" width="19.0" height="7.0" rx="3.0" fill="#1c1c1c" opacity="1.0" filter="url(#bl)"/>
<rect x="204.5" y="420.5" width="18.0" height="7.0" rx="3.0" fill="#1c1c1c" opacity="1.0" filter="url(#bl)"/>
<rect x="228.3" y="420.5" width="19.0" height="7.0" rx="3.0" fill="#1c1c1c" opacity="1.0" filter="url(#bl)"/>
<rect x="252.0" y="420.5" width="19.0" height="7.0" rx="3.0" fill="#1c1c1c" opacity="1.0" filter="url(#bl)"/>
</g>
<rect x="173.2" y="415.7" width="106.6" height="27.4" fill="none" stroke="#3a3a3a" stroke-width="1.2"/>
<clipPath id="c12"><rect x="173.2" y="446.3" width="106.6" height="27.1"/></clipPath>
<g clip-path="url(#c12)">
<rect x="173.2" y="446.3" width="106.6" height="27.1" fill="#e2e2e2"/>
<rect x="180.3" y="448.0" width="20.0" height="24.0" rx="3.0" fill="#d2d2d2" opacity="1.0" filter="url(#bl2)"/>
<rect x="203.5" y="448.0" width="20.0" height="24.0" rx="3.0" fill="#d8d8d8" opacity="1.0" filter="url(#bl2)"/>
<rect x="227.8" y="448.0" width="20.0" height="24.0" rx="3.0" fill="#d8d8d8" opacity="1.0" filter="url(#bl2)"/>
<rect x="251.5" y="448.0" width="20.0" height="24.0" rx="3.0" fill="#dadada" opacity="1.0" filter="url(#bl2)"/>
<rect x="180.3" y="461.0" width="20.0" height="9.0" rx="3.0" fill="#c0c0c0" opacity="1.0" filter="url(#bl2)"/>
<rect x="180.3" y="458.2" width="20.0" height="5.5" rx="2.8" fill="#1a1a1a" opacity="1.0" filter="url(#bl)"/>
<rect x="203.5" y="459.5" width="20.0" height="4.0" rx="2.0" fill="#777" opacity="1.0" filter="url(#bl)"/>
<rect x="227.8" y="459.5" width="20.0" height="4.0" rx="2.0" fill="#7a7a7a" opacity="1.0" filter="url(#bl)"/>
<rect x="251.5" y="459.5" width="20.0" height="4.0" rx="2.0" fill="#bbb" opacity="1.0" filter="url(#bl)"/>
</g>
<rect x="173.2" y="446.3" width="106.6" height="27.1" fill="none" stroke="#3a3a3a" stroke-width="1.2"/>
<clipPath id="c13"><rect x="173.2" y="476.5" width="106.6" height="30.7"/></clipPath>
<g clip-path="url(#c13)">
<rect x="173.2" y="476.5" width="106.6" height="30.7" fill="#e2e2e2"/>
<rect x="179.8" y="490.1" width="21.0" height="6.5" rx="3.0" fill="#1e1e1e" opacity="1.0" filter="url(#bl)"/>
<rect x="203.5" y="490.1" width="20.0" height="6.5" rx="3.0" fill="#1e1e1e" opacity="1.0" filter="url(#bl)"/>
<rect x="228.3" y="490.1" width="19.0" height="6.5" rx="3.0" fill="#1e1e1e" opacity="1.0" filter="url(#bl)"/>
<rect x="251.5" y="490.1" width="20.0" height="6.5" rx="3.0" fill="#1e1e1e" opacity="1.0" filter="url(#bl)"/>
<rect x="179.8" y="502.4" width="21.0" height="2.0" rx="1.0" fill="#c8c8c8" opacity="1.0" filter="url(#bl)"/>
<rect x="203.0" y="502.4" width="21.0" height="2.0" rx="1.0" fill="#c8c8c8" opacity="1.0" filter="url(#bl)"/>
<rect x="227.3" y="502.4" width="21.0" height="2.0" rx="1.0" fill="#c8c8c8" opacity="1.0" filter="url(#bl)"/>
<rect x="251.0" y="502.4" width="21.0" height="2.0" rx="1.0" fill="#c8c8c8" opacity="1.0" filter="url(#bl)"/>
</g>
<rect x="173.2" y="476.5" width="106.6" height="30.7" fill="none" stroke="#3a3a3a" stroke-width="1.2"/>
<clipPath id="c14"><rect x="173.2" y="509.6" width="106.6" height="27.2"/></clipPath>
<g clip-path="url(#c14)">
<rect x="173.2" y="509.6" width="106.6" height="27.2" fill="#e0e0e0"/>
<rect x="179.3" y="516.2" width="22.0" height="3.0" rx="1.5" fill="#aaa" opacity="1.0" filter="url(#bl)"/>
<rect x="202.5" y="516.2" width="22.0" height="3.0" rx="1.5" fill="#aaa" opacity="1.0" filter="url(#bl)"/>
<rect x="226.8" y="516.2" width="22.0" height="3.0" rx="1.5" fill="#aaa" opacity="1.0" filter="url(#bl)"/>
<rect x="250.5" y="516.2" width="22.0" height="3.0" rx="1.5" fill="#aaa" opacity="1.0" filter="url(#bl)"/>
<rect x="178.3" y="524.0" width="24.0" height="6.0" rx="3.0" fill="#1e1e1e" opacity="1.0" filter="url(#bl)"/>
<rect x="201.5" y="524.0" width="24.0" height="6.0" rx="3.0" fill="#1e1e1e" opacity="1.0" filter="url(#bl)"/>
<rect x="225.8" y="524.0" width="24.0" height="6.0" rx="3.0" fill="#1e1e1e" opacity="1.0" filter="url(#bl)"/>
<rect x="251.5" y="524.0" width="20.0" height="6.0" rx="3.0" fill="#777" opacity="1.0" filter="url(#bl)"/>
</g>
<rect x="173.2" y="509.6" width="106.6" height="27.2" fill="none" stroke="#3a3a3a" stroke-width="1.2"/>
<clipPath id="c15"><rect x="173.2" y="539.9" width="106.6" height="27.7"/></clipPath>
<g clip-path="url(#c15)">
<rect x="173.2" y="539.9" width="106.6" height="27.7" fill="#e2e2e2"/>
<rect x="177.5" y="550.1" width="98.0" height="10.5" rx="3.0" fill="#111" opacity="1.0" filter="url(#bl)"/>
</g>
<rect x="173.2" y="539.9" width="106.6" height="27.7" fill="none" stroke="#3a3a3a" stroke-width="1.2"/>
<clipPath id="c16"><rect x="173.2" y="571.4" width="106.6" height="30.0"/></clipPath>
<g clip-path="url(#c16)">
<rect x="173.2" y="571.4" width="106.6" height="30.0" fill="#d2d2d2"/>
<rect x="179.8" y="581.4" width="21.0" height="4.0" rx="2.0" fill="#2a2a2a" opacity="1.0" filter="url(#bl)"/>
<rect x="226.3" y="581.4" width="23.0" height="4.0" rx="2.0" fill="#2a2a2a" opacity="1.0" filter="url(#bl)"/>
<rect x="250.0" y="581.4" width="23.0" height="4.0" rx="2.0" fill="#2a2a2a" opacity="1.0" filter="url(#bl)"/>
<rect x="179.8" y="586.9" width="21.0" height="5.0" rx="2.5" fill="#1a1a1a" opacity="1.0" filter="url(#bl)"/>
<rect x="203.5" y="586.9" width="20.0" height="5.0" rx="2.5" fill="#b0b0b0" opacity="1.0" filter="url(#bl)"/>
<rect x="226.3" y="586.9" width="23.0" height="5.0" rx="2.5" fill="#1a1a1a" opacity="1.0" filter="url(#bl)"/>
<rect x="250.0" y="586.9" width="23.0" height="5.0" rx="2.5" fill="#1a1a1a" opacity="1.0" filter="url(#bl)"/>
</g>
<rect x="173.2" y="571.4" width="106.6" height="30.0" fill="none" stroke="#3a3a3a" stroke-width="1.2"/>
<clipPath id="c17"><rect x="173.2" y="604.6" width="106.6" height="30.0"/></clipPath>
<g clip-path="url(#c17)">
<rect x="173.2" y="604.6" width="106.6" height="30.0" fill="#e0e0e0"/>
<rect x="180.7" y="613.5" width="91.3" height="6.0" rx="3.0" fill="#444" opacity="1.0" filter="url(#bl)"/>
<rect x="180.7" y="619.0" width="91.3" height="7.5" rx="3.0" fill="#222" opacity="1.0" filter="url(#bl)"/>
</g>
<rect x="173.2" y="604.6" width="106.6" height="30.0" fill="none" stroke="#3a3a3a" stroke-width="1.2"/>
<clipPath id="c20"><rect x="285.9" y="384.6" width="107.6" height="26.9"/></clipPath>
<g clip-path="url(#c20)">
<rect x="285.9" y="384.6" width="107.6" height="26.9" fill="#dadada"/>
<rect x="292.5" y="386.0" width="21.0" height="11.0" rx="3.0" fill="#c8c8c8" opacity="1.0" filter="url(#bl2)"/>
<rect x="317.8" y="386.0" width="21.0" height="11.0" rx="3.0" fill="#c8c8c8" opacity="1.0" filter="url(#bl2)"/>
<rect x="340.9" y="386.0" width="21.0" height="11.0" rx="3.0" fill="#c8c8c8" opacity="1.0" filter="url(#bl2)"/>
<rect x="365.0" y="386.0" width="21.0" height="11.0" rx="3.0" fill="#c8c8c8" opacity="1.0" filter="url(#bl2)"/>
<rect x="292.5" y="397.3" width="21.0" height="6.0" rx="3.0" fill="#1e1e1e" opacity="1.0" filter="url(#bl)"/>
<rect x="340.9" y="397.3" width="21.0" height="6.0" rx="3.0" fill="#1a1a1a" opacity="1.0" filter="url(#bl)"/>
<rect x="319.3" y="399.0" width="18.0" height="3.6" rx="1.8" fill="#484848" opacity="1.0" filter="url(#bl)" transform="rotate(-5 328.3 400.8)"/>
<rect x="367.0" y="399.0" width="17.0" height="3.6" rx="1.8" fill="#5a5a5a" opacity="1.0" filter="url(#bl)" transform="rotate(-7 375.5 400.8)"/>
</g>
<rect x="285.9" y="384.6" width="107.6" height="26.9" fill="none" stroke="#3a3a3a" stroke-width="1.2"/>
<clipPath id="c21"><rect x="285.9" y="415.2" width="107.6" height="26.6"/></clipPath>
<g clip-path="url(#c21)">
<rect x="285.9" y="415.2" width="107.6" height="26.6" fill="#d0d0d0"/>
<rect x="292.0" y="417.0" width="22.0" height="24.0" rx="3.0" fill="#6a6a6a" opacity="1.0" filter="url(#bl2)"/>
<rect x="317.3" y="417.0" width="22.0" height="24.0" rx="3.0" fill="#6a6a6a" opacity="1.0" filter="url(#bl2)"/>
<rect x="340.4" y="417.0" width="22.0" height="24.0" rx="3.0" fill="#6a6a6a" opacity="1.0" filter="url(#bl2)"/>
<rect x="364.5" y="417.0" width="22.0" height="24.0" rx="3.0" fill="#6a6a6a" opacity="1.0" filter="url(#bl2)"/>
<rect x="292.0" y="422.3" width="22.0" height="13.0" rx="3.0" fill="#383838" opacity="1.0" filter="url(#bl)"/>
<rect x="317.3" y="422.3" width="22.0" height="13.0" rx="3.0" fill="#383838" opacity="1.0" filter="url(#bl)"/>
<rect x="340.4" y="422.3" width="22.0" height="13.0" rx="3.0" fill="#383838" opacity="1.0" filter="url(#bl)"/>
<rect x="364.5" y="422.3" width="22.0" height="13.0" rx="3.0" fill="#383838" opacity="1.0" filter="url(#bl)"/>
</g>
<rect x="285.9" y="415.2" width="107.6" height="26.6" fill="none" stroke="#3a3a3a" stroke-width="1.2"/>
<clipPath id="c22"><rect x="285.9" y="444.6" width="107.6" height="28.6"/></clipPath>
<g clip-path="url(#c22)">
<rect x="285.9" y="444.6" width="107.6" height="28.6" fill="#e6e6e6"/>
<rect x="292.5" y="447.0" width="21.0" height="9.0" rx="3.0" fill="#d4d4d4" opacity="1.0" filter="url(#bl2)"/>
<rect x="317.8" y="447.0" width="21.0" height="9.0" rx="3.0" fill="#d4d4d4" opacity="1.0" filter="url(#bl2)"/>
<rect x="340.9" y="447.0" width="21.0" height="9.0" rx="3.0" fill="#d4d4d4" opacity="1.0" filter="url(#bl2)"/>
<rect x="365.0" y="447.0" width="21.0" height="9.0" rx="3.0" fill="#d4d4d4" opacity="1.0" filter="url(#bl2)"/>
<rect x="292.0" y="454.1" width="22.0" height="6.0" rx="3.0" fill="#2a2a2a" opacity="1.0" filter="url(#bl)" transform="rotate(4 303.0 457.1)"/>
<rect x="319.3" y="456.8" width="18.0" height="4.0" rx="2.0" fill="#585858" opacity="1.0" filter="url(#bl)"/>
<rect x="342.4" y="456.8" width="18.0" height="4.0" rx="2.0" fill="#606060" opacity="1.0" filter="url(#bl)"/>
<rect x="368.0" y="456.8" width="15.0" height="4.0" rx="2.0" fill="#666" opacity="1.0" filter="url(#bl)"/>
</g>
<rect x="285.9" y="444.6" width="107.6" height="28.6" fill="none" stroke="#3a3a3a" stroke-width="1.2"/>
<clipPath id="c23"><rect x="285.9" y="476.2" width="107.6" height="31.1"/></clipPath>
<g clip-path="url(#c23)">
<rect x="285.9" y="476.2" width="107.6" height="31.1" fill="#e4e4e4"/>
<rect x="292.5" y="482.0" width="21.0" height="6.0" rx="3.0" fill="#d8d8d8" opacity="1.0" filter="url(#bl2)"/>
<rect x="317.8" y="482.0" width="21.0" height="6.0" rx="3.0" fill="#d8d8d8" opacity="1.0" filter="url(#bl2)"/>
<rect x="340.9" y="482.0" width="21.0" height="6.0" rx="3.0" fill="#d8d8d8" opacity="1.0" filter="url(#bl2)"/>
<rect x="365.0" y="482.0" width="21.0" height="6.0" rx="3.0" fill="#d8d8d8" opacity="1.0" filter="url(#bl2)"/>
<rect x="291.5" y="490.0" width="23.0" height="10.0" rx="3.0" fill="#1a1a1a" opacity="1.0" filter="url(#bl)"/>
<rect x="317.3" y="490.0" width="22.0" height="10.0" rx="3.0" fill="#1a1a1a" opacity="1.0" filter="url(#bl)"/>
<rect x="340.4" y="490.0" width="22.0" height="10.0" rx="3.0" fill="#1a1a1a" opacity="1.0" filter="url(#bl)"/>
<rect x="365.0" y="490.0" width="21.0" height="10.0" rx="3.0" fill="#1a1a1a" opacity="1.0" filter="url(#bl)" transform="rotate(-8 375.5 495.0)"/>
</g>
<rect x="285.9" y="476.2" width="107.6" height="31.1" fill="none" stroke="#3a3a3a" stroke-width="1.2"/>
<clipPath id="c24"><rect x="285.9" y="509.4" width="107.6" height="26.8"/></clipPath>
<g clip-path="url(#c24)">
<rect x="285.9" y="509.4" width="107.6" height="26.8" fill="#d8d8d8"/>
<rect x="292.5" y="511.0" width="21.0" height="24.0" rx="3.0" fill="#cfcfcf" opacity="1.0" filter="url(#bl2)"/>
<rect x="317.8" y="511.0" width="21.0" height="24.0" rx="3.0" fill="#cfcfcf" opacity="1.0" filter="url(#bl2)"/>
<rect x="340.9" y="511.0" width="21.0" height="24.0" rx="3.0" fill="#cfcfcf" opacity="1.0" filter="url(#bl2)"/>
<rect x="365.0" y="511.0" width="21.0" height="24.0" rx="3.0" fill="#cfcfcf" opacity="1.0" filter="url(#bl2)"/>
<rect x="292.5" y="520.5" width="21.0" height="5.0" rx="2.5" fill="#b8b8b8" opacity="1.0" filter="url(#bl)"/>
<rect x="317.8" y="520.5" width="21.0" height="5.0" rx="2.5" fill="#b8b8b8" opacity="1.0" filter="url(#bl)"/>
<rect x="340.9" y="520.5" width="21.0" height="5.0" rx="2.5" fill="#a8a8a8" opacity="1.0" filter="url(#bl)"/>
<rect x="365.0" y="520.5" width="21.0" height="5.0" rx="2.5" fill="#c4c4c4" opacity="1.0" filter="url(#bl)"/>
</g>
<rect x="285.9" y="509.4" width="107.6" height="26.8" fill="none" stroke="#3a3a3a" stroke-width="1.2"/>
<clipPath id="c25"><rect x="285.9" y="538.5" width="107.6" height="29.7"/></clipPath>
<g clip-path="url(#c25)">
<rect x="285.9" y="538.5" width="107.6" height="29.7" fill="#e2e2e2"/>
<rect x="292.5" y="555.0" width="21.0" height="11.0" rx="3.0" fill="#cacaca" opacity="1.0" filter="url(#bl2)"/>
<rect x="317.8" y="555.0" width="21.0" height="11.0" rx="3.0" fill="#cacaca" opacity="1.0" filter="url(#bl2)"/>
<rect x="340.9" y="555.0" width="21.0" height="11.0" rx="3.0" fill="#cacaca" opacity="1.0" filter="url(#bl2)"/>
<rect x="365.0" y="555.0" width="21.0" height="11.0" rx="3.0" fill="#cacaca" opacity="1.0" filter="url(#bl2)"/>
<rect x="292.0" y="550.8" width="22.0" height="5.5" rx="2.8" fill="#1e1e1e" opacity="1.0" filter="url(#bl)"/>
<rect x="318.8" y="550.8" width="19.0" height="5.5" rx="2.8" fill="#222" opacity="1.0" filter="url(#bl)"/>
<rect x="341.4" y="550.8" width="20.0" height="5.5" rx="2.8" fill="#222" opacity="1.0" filter="url(#bl)"/>
<rect x="365.5" y="550.8" width="20.0" height="5.5" rx="2.8" fill="#222" opacity="1.0" filter="url(#bl)" transform="rotate(-6 375.5 553.5)"/>
</g>
<rect x="285.9" y="538.5" width="107.6" height="29.7" fill="none" stroke="#3a3a3a" stroke-width="1.2"/>
<clipPath id="c26"><rect x="285.9" y="570.8" width="107.6" height="29.4"/></clipPath>
<g clip-path="url(#c26)">
<rect x="285.9" y="570.8" width="107.6" height="29.4" fill="#e0e0e0"/>
<rect x="293.0" y="579.9" width="20.0" height="4.0" rx="2.0" fill="#555" opacity="1.0" filter="url(#bl)"/>
<rect x="319.3" y="579.9" width="18.0" height="4.0" rx="2.0" fill="#bbb" opacity="1.0" filter="url(#bl)"/>
<rect x="341.4" y="579.9" width="20.0" height="4.0" rx="2.0" fill="#b0b0b0" opacity="1.0" filter="url(#bl)"/>
<rect x="366.5" y="579.9" width="18.0" height="4.0" rx="2.0" fill="#bbb" opacity="1.0" filter="url(#bl)"/>
<rect x="291.5" y="585.3" width="23.0" height="6.0" rx="3.0" fill="#1a1a1a" opacity="1.0" filter="url(#bl)"/>
<rect x="318.8" y="585.3" width="19.0" height="6.0" rx="3.0" fill="#333" opacity="1.0" filter="url(#bl)"/>
<rect x="341.4" y="585.3" width="20.0" height="6.0" rx="3.0" fill="#2a2a2a" opacity="1.0" filter="url(#bl)"/>
<rect x="366.0" y="585.3" width="19.0" height="6.0" rx="3.0" fill="#2e2e2e" opacity="1.0" filter="url(#bl)"/>
</g>
<rect x="285.9" y="570.8" width="107.6" height="29.4" fill="none" stroke="#3a3a3a" stroke-width="1.2"/>
<clipPath id="c27"><rect x="285.9" y="603.4" width="107.6" height="30.9"/></clipPath>
<g clip-path="url(#c27)">
<rect x="285.9" y="603.4" width="107.6" height="30.9" fill="#dcdcdc"/>
<rect x="292.0" y="605.0" width="22.0" height="27.0" rx="3.0" fill="#5e5e5e" opacity="1.0" filter="url(#bl2)"/>
<rect x="317.3" y="605.0" width="22.0" height="27.0" rx="3.0" fill="#5e5e5e" opacity="1.0" filter="url(#bl2)"/>
<rect x="340.4" y="605.0" width="22.0" height="27.0" rx="3.0" fill="#5e5e5e" opacity="1.0" filter="url(#bl2)"/>
<rect x="364.5" y="605.0" width="22.0" height="27.0" rx="3.0" fill="#5e5e5e" opacity="1.0" filter="url(#bl2)"/>
<rect x="292.0" y="612.3" width="22.0" height="6.0" rx="3.0" fill="#333" opacity="1.0" filter="url(#bl)"/>
<rect x="317.3" y="612.3" width="22.0" height="6.0" rx="3.0" fill="#333" opacity="1.0" filter="url(#bl)"/>
<rect x="340.4" y="612.3" width="22.0" height="6.0" rx="3.0" fill="#333" opacity="1.0" filter="url(#bl)"/>
<rect x="364.5" y="612.3" width="22.0" height="6.0" rx="3.0" fill="#333" opacity="1.0" filter="url(#bl)"/>
<rect x="292.0" y="619.2" width="22.0" height="6.0" rx="3.0" fill="#222" opacity="1.0" filter="url(#bl)"/>
<rect x="317.3" y="619.2" width="22.0" height="6.0" rx="3.0" fill="#222" opacity="1.0" filter="url(#bl)"/>
<rect x="340.4" y="619.2" width="22.0" height="6.0" rx="3.0" fill="#222" opacity="1.0" filter="url(#bl)"/>
<rect x="364.5" y="619.2" width="22.0" height="6.0" rx="3.0" fill="#222" opacity="1.0" filter="url(#bl)"/>
</g>
<rect x="285.9" y="603.4" width="107.6" height="30.9" fill="none" stroke="#3a3a3a" stroke-width="1.2"/>
<clipPath id="c30"><rect x="401.4" y="384.3" width="107.3" height="26.8"/></clipPath>
<g clip-path="url(#c30)">
<rect x="401.4" y="384.3" width="107.3" height="26.8" fill="#cdcdcd"/>
<rect x="408.0" y="386.0" width="22.0" height="24.0" rx="3.0" fill="#a8a8a8" opacity="1.0" filter="url(#bl2)"/>
<rect x="434.0" y="386.0" width="22.0" height="24.0" rx="3.0" fill="#c4c4c4" opacity="1.0" filter="url(#bl2)"/>
<rect x="457.0" y="386.0" width="22.0" height="24.0" rx="3.0" fill="#a8a8a8" opacity="1.0" filter="url(#bl2)"/>
<rect x="482.0" y="386.0" width="22.0" height="24.0" rx="3.0" fill="#c4c4c4" opacity="1.0" filter="url(#bl2)"/>
<rect x="409.0" y="399.0" width="20.0" height="4.0" rx="2.0" fill="#333" opacity="1.0" filter="url(#bl)"/>
<rect x="458.0" y="399.0" width="20.0" height="4.0" rx="2.0" fill="#333" opacity="1.0" filter="url(#bl)"/>
<rect x="409.0" y="390.2" width="20.0" height="3.0" rx="1.5" fill="#999" opacity="1.0" filter="url(#bl)"/>
<rect x="458.0" y="390.2" width="20.0" height="3.0" rx="1.5" fill="#999" opacity="1.0" filter="url(#bl)"/>
</g>
<rect x="401.4" y="384.3" width="107.3" height="26.8" fill="none" stroke="#3a3a3a" stroke-width="1.2"/>
<clipPath id="c31"><rect x="401.4" y="414.6" width="107.3" height="27.1"/></clipPath>
<g clip-path="url(#c31)">
<rect x="401.4" y="414.6" width="107.3" height="27.1" fill="#cfcfcf"/>
<rect x="408.0" y="417.0" width="22.0" height="23.0" rx="3.0" fill="#505050" opacity="1.0" filter="url(#bl2)"/>
<rect x="434.0" y="417.0" width="22.0" height="23.0" rx="3.0" fill="#505050" opacity="1.0" filter="url(#bl2)"/>
<rect x="457.0" y="417.0" width="22.0" height="23.0" rx="3.0" fill="#505050" opacity="1.0" filter="url(#bl2)"/>
<rect x="482.0" y="417.0" width="22.0" height="23.0" rx="3.0" fill="#505050" opacity="1.0" filter="url(#bl2)"/>
<rect x="407.5" y="419.0" width="23.0" height="8.0" rx="3.0" fill="#2a2a2a" opacity="1.0" filter="url(#bl)"/>
<rect x="434.5" y="419.0" width="21.0" height="8.0" rx="3.0" fill="#2a2a2a" opacity="1.0" filter="url(#bl)"/>
<rect x="457.5" y="419.0" width="21.0" height="8.0" rx="3.0" fill="#2a2a2a" opacity="1.0" filter="url(#bl)"/>
<rect x="482.5" y="419.0" width="21.0" height="8.0" rx="3.0" fill="#2a2a2a" opacity="1.0" filter="url(#bl)"/>
<rect x="407.5" y="430.7" width="23.0" height="6.0" rx="3.0" fill="#1e1e1e" opacity="1.0" filter="url(#bl)"/>
<rect x="434.5" y="430.7" width="21.0" height="6.0" rx="3.0" fill="#1e1e1e" opacity="1.0" filter="url(#bl)"/>
<rect x="457.5" y="430.7" width="21.0" height="6.0" rx="3.0" fill="#1e1e1e" opacity="1.0" filter="url(#bl)"/>
<rect x="482.5" y="430.7" width="21.0" height="6.0" rx="3.0" fill="#1e1e1e" opacity="1.0" filter="url(#bl)"/>
</g>
<rect x="401.4" y="414.6" width="107.3" height="27.1" fill="none" stroke="#3a3a3a" stroke-width="1.2"/>
<clipPath id="c32"><rect x="401.4" y="444.6" width="107.3" height="28.8"/></clipPath>
<g clip-path="url(#c32)">
<rect x="401.4" y="444.6" width="107.3" height="28.8" fill="#d8d8d8"/>
<rect x="408.0" y="446.0" width="22.0" height="6.0" rx="3.0" fill="#bbb" opacity="1.0" filter="url(#bl2)"/>
<rect x="435.0" y="452.0" width="20.0" height="14.0" rx="3.0" fill="#d0d0d0" opacity="1.0" filter="url(#bl2)"/>
<rect x="458.0" y="452.0" width="20.0" height="14.0" rx="3.0" fill="#d0d0d0" opacity="1.0" filter="url(#bl2)"/>
<rect x="483.0" y="452.0" width="20.0" height="14.0" rx="3.0" fill="#d0d0d0" opacity="1.0" filter="url(#bl2)"/>
<rect x="407.2" y="451.7" width="23.5" height="13.0" rx="3.0" fill="#1a1a1a" opacity="1.0" filter="url(#bl)"/>
</g>
<rect x="401.4" y="444.6" width="107.3" height="28.8" fill="none" stroke="#3a3a3a" stroke-width="1.2"/>
<clipPath id="c33"><rect x="401.4" y="476.2" width="107.3" height="31.1"/></clipPath>
<g clip-path="url(#c33)">
<rect x="401.4" y="476.2" width="107.3" height="31.1" fill="#dedede"/>
<rect x="407.5" y="485.9" width="23.0" height="7.0" rx="3.0" fill="#1e1e1e" opacity="1.0" filter="url(#bl)"/>
<rect x="434.5" y="485.9" width="21.0" height="7.0" rx="3.0" fill="#1e1e1e" opacity="1.0" filter="url(#bl)"/>
<rect x="457.0" y="485.9" width="22.0" height="7.0" rx="3.0" fill="#1e1e1e" opacity="1.0" filter="url(#bl)"/>
<rect x="482.0" y="485.9" width="22.0" height="7.0" rx="3.0" fill="#1e1e1e" opacity="1.0" filter="url(#bl)"/>
<rect x="459.0" y="497.8" width="18.0" height="2.5" rx="1.2" fill="#999" opacity="1.0" filter="url(#bl)"/>
</g>
<rect x="401.4" y="476.2" width="107.3" height="31.1" fill="none" stroke="#3a3a3a" stroke-width="1.2"/>
<clipPath id="c34"><rect x="401.4" y="509.4" width="107.3" height="27.1"/></clipPath>
<g clip-path="url(#c34)">
<rect x="401.4" y="509.4" width="107.3" height="27.1" fill="#d8d8d8"/>
<rect x="408.5" y="520.8" width="21.0" height="5.5" rx="2.8" fill="#1a1a1a" opacity="1.0" filter="url(#bl)"/>
<rect x="458.0" y="520.8" width="20.0" height="5.5" rx="2.8" fill="#222" opacity="1.0" filter="url(#bl)"/>
<rect x="435.5" y="522.0" width="19.0" height="3.5" rx="1.8" fill="#888" opacity="1.0" filter="url(#bl)"/>
<rect x="482.5" y="522.0" width="21.0" height="3.5" rx="1.8" fill="#888" opacity="1.0" filter="url(#bl)"/>
</g>
<rect x="401.4" y="509.4" width="107.3" height="27.1" fill="none" stroke="#3a3a3a" stroke-width="1.2"/>
<clipPath id="c35"><rect x="401.4" y="538.7" width="107.3" height="29.9"/></clipPath>
<g clip-path="url(#c35)">
<rect x="401.4" y="538.7" width="107.3" height="29.9" fill="#d0d0d0"/>
<rect x="408.0" y="540.0" width="22.0" height="27.0" rx="3.0" fill="#a2a2a2" opacity="1.0" filter="url(#bl2)"/>
<rect x="434.0" y="540.0" width="22.0" height="27.0" rx="3.0" fill="#a2a2a2" opacity="1.0" filter="url(#bl2)"/>
<rect x="457.0" y="540.0" width="22.0" height="27.0" rx="3.0" fill="#a2a2a2" opacity="1.0" filter="url(#bl2)"/>
<rect x="482.0" y="540.0" width="22.0" height="27.0" rx="3.0" fill="#a2a2a2" opacity="1.0" filter="url(#bl2)"/>
<rect x="408.0" y="560.0" width="22.0" height="7.0" rx="3.0" fill="#8a8a8a" opacity="1.0" filter="url(#bl2)"/>
<rect x="434.0" y="560.0" width="22.0" height="7.0" rx="3.0" fill="#8a8a8a" opacity="1.0" filter="url(#bl2)"/>
<rect x="457.0" y="560.0" width="22.0" height="7.0" rx="3.0" fill="#8a8a8a" opacity="1.0" filter="url(#bl2)"/>
<rect x="482.0" y="560.0" width="22.0" height="7.0" rx="3.0" fill="#8a8a8a" opacity="1.0" filter="url(#bl2)"/>
<rect x="408.5" y="549.8" width="21.0" height="6.0" rx="3.0" fill="#333" opacity="1.0" filter="url(#bl)"/>
<rect x="435.5" y="549.8" width="19.0" height="6.0" rx="3.0" fill="#333" opacity="1.0" filter="url(#bl)"/>
<rect x="457.5" y="549.8" width="21.0" height="6.0" rx="3.0" fill="#333" opacity="1.0" filter="url(#bl)"/>
<rect x="483.5" y="549.8" width="19.0" height="6.0" rx="3.0" fill="#333" opacity="1.0" filter="url(#bl)"/>
</g>
<rect x="401.4" y="538.7" width="107.3" height="29.9" fill="none" stroke="#3a3a3a" stroke-width="1.2"/>
<clipPath id="c36"><rect x="401.4" y="570.8" width="107.3" height="29.5"/></clipPath>
<g clip-path="url(#c36)">
<rect x="401.4" y="570.8" width="107.3" height="29.5" fill="#dadada"/>
<rect x="408.5" y="581.4" width="21.0" height="4.0" rx="2.0" fill="#2a2a2a" opacity="1.0" filter="url(#bl)"/>
<rect x="434.5" y="581.4" width="21.0" height="4.0" rx="2.0" fill="#a8a8a8" opacity="1.0" filter="url(#bl)"/>
<rect x="457.5" y="581.4" width="21.0" height="4.0" rx="2.0" fill="#a8a8a8" opacity="1.0" filter="url(#bl)"/>
<rect x="482.5" y="581.4" width="21.0" height="4.0" rx="2.0" fill="#a8a8a8" opacity="1.0" filter="url(#bl)"/>
<rect x="408.5" y="587.3" width="21.0" height="5.0" rx="2.5" fill="#111" opacity="1.0" filter="url(#bl)"/>
<rect x="434.0" y="587.3" width="22.0" height="5.0" rx="2.5" fill="#444" opacity="1.0" filter="url(#bl)"/>
<rect x="457.5" y="587.3" width="21.0" height="5.0" rx="2.5" fill="#444" opacity="1.0" filter="url(#bl)"/>
<rect x="482.5" y="587.3" width="21.0" height="5.0" rx="2.5" fill="#444" opacity="1.0" filter="url(#bl)"/>
</g>
<rect x="401.4" y="570.8" width="107.3" height="29.5" fill="none" stroke="#3a3a3a" stroke-width="1.2"/>
<clipPath id="c37"><rect x="401.4" y="603.0" width="107.3" height="31.3"/></clipPath>
<g clip-path="url(#c37)">
<rect x="401.4" y="603.0" width="107.3" height="31.3" fill="#e4e4e4"/>
<rect x="406.5" y="614.3" width="93.5" height="12.0" rx="3.0" fill="#151515" opacity="1.0" filter="url(#bl)"/>
</g>
<rect x="401.4" y="603.0" width="107.3" height="31.3" fill="none" stroke="#3a3a3a" stroke-width="1.2"/>
</svg></body></html>
